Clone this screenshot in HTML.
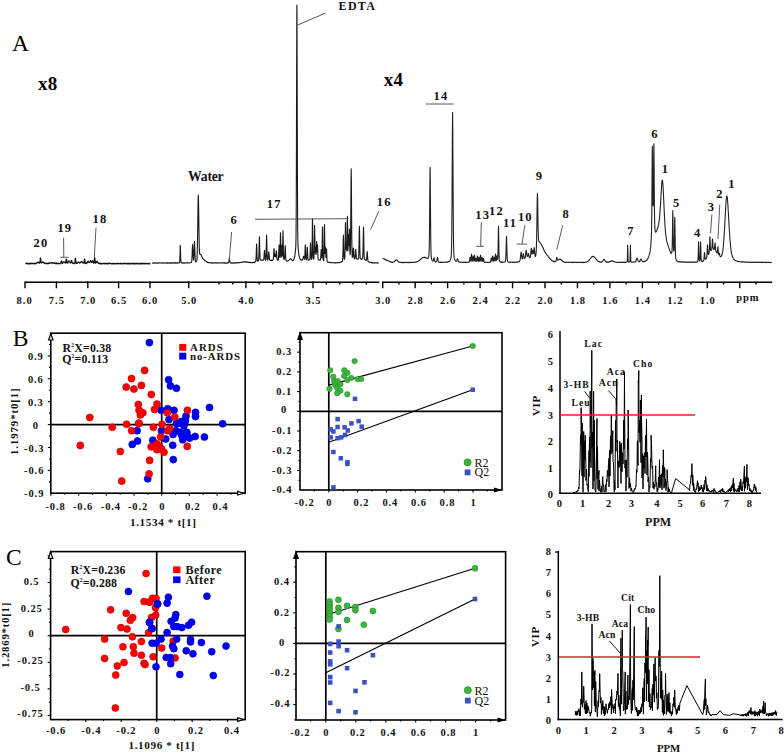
<!DOCTYPE html>
<html><head><meta charset="utf-8"><style>
html,body{margin:0;padding:0;background:#fff;}
svg{display:block;}
text{font-family:"Liberation Serif", serif;}
</style></head><body>
<svg width="784" height="755" viewBox="0 0 784 755" font-family='"Liberation Serif", serif'>
<rect width="784" height="755" fill="#fff"/>
<path d="M25.4,263.48 L25.6,263.38 L25.8,263.68 L26,263.33 L26.2,263.61 L26.4,263.51 L26.6,263.32 L26.8,263.59 L27,263.31 L27.2,263.55 L27.4,263.33 L27.6,263.34 L27.8,263.54 L28,263.78 L28.2,263.36 L28.4,263.42 L28.6,263.66 L28.8,263.85 L29,263.63 L29.2,263.52 L29.4,263.87 L29.6,263.31 L29.8,263.8 L30,263.45 L30.2,263.37 L30.4,263.35 L30.6,263.46 L30.8,263.77 L31,263.39 L31.2,263.62 L31.4,263.66 L31.6,263.5 L31.8,263.6 L32,263.31 L32.2,263.31 L32.4,263.39 L32.6,263.67 L32.8,263.52 L33,263.45 L33.2,263.61 L33.4,263.53 L33.6,263.44 L33.8,263.73 L34,263.67 L34.2,263.39 L34.4,263.58 L34.6,263.55 L34.8,263.75 L35,263.66 L35.2,263.38 L35.4,263.78 L35.6,263.25 L35.8,263.4 L36,263.56 L36.2,263.13 L36.4,263.24 L36.6,262.86 L36.8,263.09 L37,262.96 L37.2,262.65 L37.4,262.63 L37.6,262.11 L37.8,262.2 L38,262.09 L38.2,262.12 L38.4,262.16 L38.6,262.56 L38.8,262.8 L39,262.69 L39.2,262.95 L39.4,262.68 L39.6,263.07 L39.8,262.81 L40,262.21 L40.2,260.45 L40.4,258.31 L40.5,258.04 L40.6,258.54 L40.8,259.97 L41,261.89 L41.2,262.52 L41.4,262.72 L41.6,262.67 L41.8,263.01 L42,262.48 L42.2,262.38 L42.4,262.28 L42.6,262.4 L42.8,261.81 L43,261.99 L43.2,262.1 L43.4,262.43 L43.6,262.58 L43.8,262.8 L44,262.65 L44.2,262.91 L44.4,263.02 L44.6,263.45 L44.8,263.58 L45,263.16 L45.2,263.21 L45.4,263.27 L45.6,263.28 L45.8,263.44 L46,263.51 L46.2,263.32 L46.4,263.16 L46.6,263.4 L46.8,263.37 L47,263.48 L47.2,263.7 L47.4,263.53 L47.6,263.41 L47.8,263.46 L48,263.48 L48.2,263.09 L48.4,263.58 L48.6,263.48 L48.8,263.52 L49,263.45 L49.2,263.18 L49.4,263.16 L49.6,262.96 L49.8,263.25 L50,262.88 L50.2,262.86 L50.4,262.92 L50.6,262.86 L50.8,262.95 L51,262.76 L51.2,262.71 L51.4,262.79 L51.6,262.75 L51.8,262.9 L52,262.69 L52.2,263.2 L52.4,263.05 L52.6,262.79 L52.8,262.86 L53,262.94 L53.2,262.97 L53.4,262.84 L53.6,263.3 L53.8,263.41 L54,263.12 L54.2,263.16 L54.4,262.95 L54.6,262.98 L54.8,263.15 L55,263.13 L55.2,263.5 L55.4,263.12 L55.6,263.06 L55.8,263.63 L56,263.4 L56.2,263.19 L56.4,263.44 L56.6,263.14 L56.8,263.46 L57,263.74 L57.2,263.68 L57.4,263.59 L57.6,263.34 L57.8,263.4 L58,263.29 L58.2,263.66 L58.4,263.51 L58.6,263.66 L58.8,263.39 L59,263.33 L59.2,263.68 L59.4,263.78 L59.6,263.69 L59.8,263.66 L60,263.65 L60.2,263.58 L60.4,263.24 L60.6,263.32 L60.8,263.01 L61,262.32 L61.2,261.54 L61.4,260.96 L61.5,260.82 L61.6,261.19 L61.8,262.04 L62,262.46 L62.2,263.17 L62.4,263.33 L62.6,263.27 L62.8,262.81 L63,262.56 L63.2,262.38 L63.4,262.16 L63.6,261.99 L63.8,262.11 L64,262.23 L64.2,262.23 L64.4,262.13 L64.6,262.4 L64.8,262.67 L65,262.41 L65.2,262.88 L65.4,263.08 L65.6,262.87 L65.8,262.33 L66,261.07 L66.2,259.46 L66.4,259.06 L66.6,259.57 L66.8,261.32 L67,262.55 L67.2,262.76 L67.4,262.92 L67.6,263.21 L67.8,262.92 L68,262.34 L68.2,261.97 L68.4,261.59 L68.6,261.64 L68.8,261.28 L69,260.76 L69.2,261.29 L69.4,261.69 L69.6,261.9 L69.8,262.11 L70,262.56 L70.2,262.55 L70.4,262.59 L70.6,263.09 L70.8,262.58 L71,261.91 L71.2,261.4 L71.4,260.5 L71.5,260.68 L71.6,260.75 L71.8,261.01 L72,261.83 L72.2,262.5 L72.4,262.88 L72.6,263.29 L72.8,263.19 L73,263.33 L73.2,263.17 L73.4,263.65 L73.6,263.32 L73.8,263.37 L74,263.43 L74.2,263.6 L74.4,263.24 L74.6,263.38 L74.8,262.63 L75,261.44 L75.2,259.6 L75.4,258.21 L75.6,259.55 L75.8,261.22 L76,262.32 L76.2,263.28 L76.4,263.06 L76.6,263.28 L76.8,263.42 L77,263.28 L77.2,263.06 L77.4,263.04 L77.6,262.87 L77.8,262.78 L78,262.12 L78.2,262.17 L78.4,261.84 L78.5,261.83 L78.6,262.15 L78.8,262.11 L79,262.35 L79.2,262.69 L79.4,262.97 L79.6,262.81 L79.8,262.96 L80,262.86 L80.2,262.76 L80.4,262.69 L80.6,262.32 L80.8,262.11 L81,261.83 L81.2,261.9 L81.4,261.64 L81.5,261.73 L81.6,261.79 L81.8,261.5 L82,261.89 L82.2,262.37 L82.4,262.57 L82.6,262.39 L82.8,262.59 L83,262.94 L83.2,262.83 L83.4,263 L83.6,262.9 L83.8,263.16 L84,262.8 L84.2,261.8 L84.4,259.72 L84.6,259.08 L84.8,260.03 L85,261.37 L85.2,262.9 L85.4,263.39 L85.6,263.09 L85.8,263.57 L86,263.24 L86.2,263.28 L86.4,263.53 L86.6,263.33 L86.8,262.78 L87,262.72 L87.2,262.48 L87.4,262.04 L87.6,261.63 L87.8,261.44 L88,261.58 L88.2,261.24 L88.4,261.79 L88.6,262 L88.8,262.01 L89,262.38 L89.2,262.61 L89.4,262.46 L89.6,261.97 L89.8,262.2 L90,261.7 L90.2,261.45 L90.4,260.71 L90.5,260.77 L90.6,260.67 L90.8,261.32 L91,261.36 L91.2,261.62 L91.4,262.04 L91.6,262.4 L91.8,262.2 L92,261.51 L92.2,261 L92.4,261.14 L92.5,260.89 L92.6,261.04 L92.8,261.07 L93,261.59 L93.2,262.48 L93.4,262.69 L93.6,262.69 L93.8,263.24 L94,262.82 L94.2,262.06 L94.4,259.89 L94.6,258.46 L94.7,257.65 L94.8,258.46 L95,260.11 L95.2,261.76 L95.4,262.72 L95.6,263.17 L95.8,262.73 L96,262.47 L96.2,262.46 L96.4,261.98 L96.6,261.6 L96.8,261.4 L97,261.24 L97.2,261.44 L97.4,261.76 L97.6,262.09 L97.8,262.7 L98,262.71 L98.2,263.06 L98.4,263.03 L98.6,263.24 L98.8,263.12 L99,263.3 L99.2,263.18 L99.4,263.63 L99.6,263.54 L99.8,263.33 L100,263.51 L100.2,263.79 L100.4,263.3 L100.6,263.73 L100.8,263.5 L101,263.55 L101.2,263.75 L101.4,263.49 L101.6,263.56 L101.8,263.67 L102,263.85 L102.2,263.47 L102.4,263.77 L102.6,263.69 L102.8,263.65 L103,263.51 L103.2,263.48 L103.4,263.31 L103.6,263.35 L103.8,263.32 L104,263.72 L104.2,263.43 L104.4,263.38 L104.6,263.33 L104.8,263.78 L105,263.8 L105.2,263.68 L105.4,263.45 L105.6,263.43 L105.8,263.46 L106,263.56 L106.2,263.38 L106.4,263.55 L106.6,263.44 L106.8,263.86 L107,263.87 L107.2,263.61 L107.4,263.43 L107.6,263.87 L107.8,263.47 L108,263.5 L108.2,263.29 L108.4,263.52 L108.6,263.57 L108.8,263.59 L109,263.41 L109.2,263.59 L109.4,263.29 L109.6,263.45 L109.8,263.34 L110,263.53 L110.2,263.31 L110.4,263.3 L110.6,263.47 L110.8,263.43 L111,263.64 L111.2,263.61 L111.4,263.74 L111.6,263.69 L111.8,263.72 L112,263.82 L112.2,263.53 L112.4,263.49 L112.6,263.88 L112.8,263.38 L113,263.73 L113.2,263.68 L113.4,263.32 L113.6,263.79 L113.8,263.83 L114,263.67 L114.2,263.73 L114.4,263.78 L114.6,263.38 L114.8,263.61 L115,263.6 L115.2,263.79 L115.4,263.78 L115.6,263.79 L115.8,263.64 L116,263.83 L116.2,263.7 L116.4,263.71 L116.6,263.43 L116.8,263.31 L117,263.37 L117.2,263.51 L117.4,263.36 L117.6,263.8 L117.8,263.63 L118,263.67 L118.2,263.67 L118.4,263.7 L118.6,263.59 L118.8,263.3 L119,263.77 L119.2,263.74 L119.4,263.6 L119.6,263.62 L119.8,263.69 L120,263.33 L120.2,263.74 L120.4,263.45 L120.6,263.34 L120.8,263.45 L121,263.73 L121.2,263.42 L121.4,263.74 L121.6,263.88 L121.8,263.59 L122,263.53 L122.2,263.58 L122.4,263.71 L122.6,263.76 L122.8,263.67 L123,263.68 L123.2,263.34 L123.4,263.38 L123.6,263.45 L123.8,263.74 L124,263.48 L124.2,263.64 L124.4,263.3 L124.6,263.33 L124.8,263.46 L125,263.7 L125.2,263.71 L125.4,263.7 L125.6,263.47 L125.8,263.61 L126,263.58 L126.2,263.58 L126.4,263.37 L126.6,263.83 L126.8,263.42 L127,263.88 L127.2,263.86 L127.4,263.31 L127.6,263.57 L127.8,263.79 L128,263.88 L128.2,263.57 L128.4,263.46 L128.6,263.42 L128.8,263.86 L129,263.42 L129.2,263.65 L129.4,263.38 L129.6,263.61 L129.8,263.87 L130,263.38 L130.2,263.79 L130.4,263.6 L130.6,263.83 L130.8,263.72 L131,263.44 L131.2,263.84 L131.4,263.59 L131.6,263.31 L131.8,263.3 L132,263.59 L132.2,263.57 L132.4,263.48 L132.6,263.38 L132.8,263.5 L133,263.49 L133.2,263.8 L133.4,263.3 L133.6,263.75 L133.8,263.8 L134,263.37 L134.2,263.85 L134.4,263.73 L134.6,263.84 L134.8,263.47 L135,263.52 L135.2,263.53 L135.4,263.9 L135.6,263.65 L135.8,263.51 L136,263.55 L136.2,263.46 L136.4,263.33 L136.6,263.36 L136.8,263.8 L137,263.47 L137.2,263.86 L137.4,263.45 L137.6,263.46 L137.8,263.6 L138,263.41 L138.2,263.52 L138.4,263.87 L138.6,263.83 L138.8,263.79 L139,263.68 L139.2,263.85 L139.4,263.86 L139.6,263.63 L139.8,263.73 L140,263.33 L140.2,263.74 L140.4,263.57 L140.6,263.75 L140.8,263.68 L141,263.47 L141.2,263.33 L141.4,263.85 L141.6,263.37 L141.8,263.58 L142,263.5 L142.2,263.48 L142.4,263.74 L142.6,263.88 L142.8,263.45 L143,263.69 L143.2,263.48 L143.4,263.63 L143.6,263.53 L143.8,263.4 L144,263.4 L144.2,263.42 L144.4,263.84 L144.6,263.6 L144.8,263.43 L145,263.84 L145.2,263.9 L145.4,263.57 L145.6,263.38 L145.8,263.41 L146,263.35 L146.2,263.5 L146.4,263.35 L146.6,263.44 L146.8,263.45 L147,263.64 L147.2,263.83 L147.4,263.75 L147.6,263.55 L147.8,263.55 L148,263.61 L148.2,263.52 L148.4,263.5 L148.6,263.34 L148.8,263.46 L149,263.88 L149.2,263.37 L149.4,263.6 L149.6,263.68 L149.8,263.82 L150,263.43 L150.2,263.46 L150.4,263.45" fill="none" stroke="#111" stroke-width="1.3" stroke-linejoin="round" />
<path d="M152.2,262.95 L152.4,262.97 L152.6,263.17 L152.8,263.13 L153,263.14 L153.2,262.8 L153.4,262.8 L153.6,263.07 L153.8,263.15 L154,262.98 L154.2,263.02 L154.4,262.79 L154.6,262.95 L154.8,263.16 L155,263.12 L155.2,263.13 L155.4,263.18 L155.6,262.89 L155.8,262.83 L156,262.85 L156.2,263 L156.4,263.06 L156.6,263.16 L156.8,263.08 L157,263.05 L157.2,263.09 L157.4,262.97 L157.6,263.01 L157.8,262.8 L158,263.1 L158.2,262.88 L158.4,263.16 L158.6,263.05 L158.8,262.91 L159,262.84 L159.2,262.89 L159.4,263.04 L159.6,263.07 L159.8,262.83 L160,262.81 L160.2,263 L160.4,263.02 L160.6,262.94 L160.8,262.88 L161,263.03 L161.2,262.79 L161.4,262.91 L161.6,262.97 L161.8,263.17 L162,263.04 L162.2,263.14 L162.4,262.98 L162.6,262.88 L162.8,262.88 L163,263.17 L163.2,263.07 L163.4,262.91 L163.6,262.79 L163.8,262.98 L164,263.05 L164.2,262.95 L164.4,262.89 L164.6,263.05 L164.8,263.15 L165,262.87 L165.2,262.8 L165.4,262.92 L165.6,262.95 L165.8,263.06 L166,262.86 L166.2,263.1 L166.4,263.08 L166.6,262.98 L166.8,262.86 L167,263.17 L167.2,262.91 L167.4,263.11 L167.6,262.87 L167.8,262.87 L168,263.08 L168.2,262.9 L168.4,263.16 L168.6,262.98 L168.8,262.85 L169,262.87 L169.2,262.95 L169.4,263.04 L169.6,263.16 L169.8,262.84 L170,262.94 L170.2,262.86 L170.4,263.17 L170.6,262.83 L170.8,262.8 L171,262.8 L171.2,262.93 L171.4,263.14 L171.6,263.13 L171.8,263.07 L172,263.17 L172.2,263.15 L172.4,262.91 L172.6,262.85 L172.8,263.15 L173,263.07 L173.2,262.78 L173.4,263.04 L173.6,262.92 L173.8,262.92 L174,262.9 L174.2,262.84 L174.4,262.77 L174.6,262.88 L174.8,262.91 L175,263.15 L175.2,262.81 L175.4,263.15 L175.6,262.85 L175.8,262.9 L176,263.09 L176.2,263.09 L176.4,262.93 L176.6,262.77 L176.8,262.94 L177,262.9 L177.2,263.11 L177.4,262.82 L177.6,262.88 L177.8,263.09 L178,262.74 L178.2,262.88 L178.4,263.03 L178.6,262.99 L178.8,262.68 L179,262.65 L179.2,262.61 L179.4,262.84 L179.6,262.12 L179.8,260.2 L180,254.37 L180.2,246.76 L180.3,245.37 L180.4,247.01 L180.6,254.26 L180.8,260 L181,262.3 L181.2,262.59 L181.4,262.68 L181.6,262.62 L181.8,262.96 L182,263.04 L182.2,262.94 L182.4,263.08 L182.6,262.72 L182.8,262.81 L183,262.91 L183.2,263.1 L183.4,263.1 L183.6,262.88 L183.8,262.82 L184,262.9 L184.2,262.92 L184.4,263.1 L184.6,262.8 L184.8,263.04 L185,263.02 L185.2,263.05 L185.4,263.03 L185.6,262.96 L185.8,262.85 L186,262.84 L186.2,262.86 L186.4,263.02 L186.6,262.74 L186.8,262.78 L187,263 L187.2,262.8 L187.4,262.72 L187.6,262.7 L187.8,262.91 L188,262.81 L188.2,263.07 L188.4,263.02 L188.6,263.06 L188.8,262.76 L189,262.68 L189.2,262.68 L189.4,262.83 L189.6,262.9 L189.8,262.78 L190,262.68 L190.2,262.73 L190.4,262.79 L190.6,262.78 L190.8,262.77 L191,262.76 L191.2,262.6 L191.4,262.2 L191.6,261.96 L191.8,260.32 L192,257.33 L192.2,252.31 L192.4,247.18 L192.6,244.52 L192.8,246.9 L193,252.06 L193.2,256.81 L193.4,259.82 L193.6,260.07 L193.8,257.95 L194,253.39 L194.2,247.38 L194.4,242.24 L194.5,241.38 L194.6,242.36 L194.8,247.23 L195,253.64 L195.2,257.99 L195.4,260.59 L195.6,261.67 L195.8,261.94 L196,261.98 L196.2,261.53 L196.4,261.45 L196.6,261 L196.8,260.19 L197,258.64 L197.2,254.56 L197.4,247.46 L197.6,235.87 L197.8,221.36 L198,206.33 L198.2,196.34 L198.3,195.01 L198.4,196.2 L198.6,204.94 L198.8,219.17 L199,233.05 L199.2,243.44 L199.4,249.94 L199.6,253.02 L199.8,254.24 L200,254.51 L200.2,254.58 L200.4,254.51 L200.5,254.31 L200.6,254.24 L200.8,254.48 L201,254.85 L201.2,254.99 L201.4,255.45 L201.6,255.87 L201.8,256.59 L202,256.97 L202.2,257.23 L202.4,257.67 L202.6,258.16 L202.8,258.56 L203,258.89 L203.2,258.92 L203.4,259.17 L203.6,259.58 L203.8,259.64 L204,259.76 L204.2,259.92 L204.4,260.34 L204.6,260.23 L204.8,260.49 L205,260.55 L205.2,260.73 L205.4,261.06 L205.6,261.26 L205.8,261.16 L206,261.23 L206.2,261.58 L206.4,261.51 L206.6,261.55 L206.8,262.03 L207,261.95 L207.2,262.21 L207.4,262.14 L207.6,262.42 L207.8,262.33 L208,262.28 L208.2,262.28 L208.4,262.56 L208.6,262.64 L208.8,262.79 L209,262.51 L209.2,262.75 L209.4,262.68 L209.6,262.76 L209.8,262.64 L210,262.71 L210.2,262.83 L210.4,263 L210.6,262.69 L210.8,262.85 L211,262.99 L211.2,263.06 L211.4,262.76 L211.6,262.73 L211.8,263.07 L212,263.08 L212.2,262.89 L212.4,262.72 L212.6,263.07 L212.8,262.86 L213,263.07 L213.2,262.96 L213.4,263.04 L213.6,262.78 L213.8,263.03 L214,262.81 L214.2,262.88 L214.4,263.06 L214.6,263.06 L214.8,262.8 L215,262.81 L215.2,262.89 L215.4,262.94 L215.6,262.88 L215.8,262.78 L216,262.83 L216.2,263.02 L216.4,263.09 L216.6,262.75 L216.8,262.96 L217,263.04 L217.2,262.75 L217.4,263.07 L217.6,262.79 L217.8,262.98 L218,262.96 L218.2,262.99 L218.4,262.86 L218.6,262.91 L218.8,262.98 L219,262.91 L219.2,263.01 L219.4,262.92 L219.6,262.92 L219.8,262.75 L220,262.99 L220.2,262.94 L220.4,262.84 L220.6,263.05 L220.8,263.06 L221,262.93 L221.2,262.82 L221.4,262.94 L221.6,262.79 L221.8,262.8 L222,262.92 L222.2,262.78 L222.4,262.93 L222.6,262.95 L222.8,262.76 L223,263 L223.2,262.78 L223.4,263.04 L223.6,263.06 L223.8,262.95 L224,262.77 L224.2,262.95 L224.4,262.9 L224.6,263.13 L224.8,262.8 L225,263.09 L225.2,263.14 L225.4,263.04 L225.6,263.07 L225.8,262.82 L226,263.14 L226.2,262.94 L226.4,263.12 L226.6,263.1 L226.8,262.8 L227,263.05 L227.2,263.1 L227.4,262.75 L227.6,262.86 L227.8,263.01 L228,262.76 L228.2,263.02 L228.4,262.66 L228.6,262.52 L228.8,261.42 L229,260.26 L229.2,259.3 L229.3,258.83 L229.4,259.03 L229.6,260.26 L229.8,261.49 L230,262.21 L230.2,262.62 L230.4,262.72 L230.6,263.07 L230.8,262.98 L231,263.07 L231.2,262.79 L231.4,263.04 L231.6,262.77 L231.8,262.94 L232,262.98 L232.2,262.87 L232.4,263.08 L232.6,262.95 L232.8,262.96 L233,263.08 L233.2,262.77 L233.4,263.13 L233.6,262.98 L233.8,262.89 L234,263.05 L234.2,262.83 L234.4,263.12 L234.6,262.95 L234.8,262.86 L235,263.02 L235.2,262.89 L235.4,262.78 L235.6,263.01 L235.8,262.72 L236,263.03 L236.2,262.8 L236.4,262.94 L236.6,263.07 L236.8,262.91 L237,262.93 L237.2,262.78 L237.4,262.65 L237.6,262.65 L237.8,262.68 L238,262.85 L238.2,262.77 L238.4,262.78 L238.6,262.92 L238.8,262.59 L239,262.61 L239.2,262.76 L239.4,262.48 L239.6,262.45 L239.8,262.57 L240,262.44 L240.2,262.51 L240.4,262.43 L240.6,262.54 L240.8,262.51 L241,262.32 L241.2,262.46 L241.4,262.36 L241.6,262.19 L241.8,262.47 L242,262.16 L242.2,262.09 L242.4,262.03 L242.6,262.22 L242.8,262.28 L243,262.21 L243.2,262.03 L243.4,261.95 L243.6,261.82 L243.8,262.05 L244,262 L244.2,261.9 L244.4,262 L244.6,261.91 L244.8,262.1 L245,262.02 L245.2,261.82 L245.4,262.09 L245.6,261.75 L245.8,261.96 L246,261.92 L246.2,261.87 L246.4,261.82 L246.6,262.13 L246.8,261.85 L247,262.09 L247.2,262.28 L247.4,261.99 L247.6,262.04 L247.8,262.23 L248,262.22 L248.2,262.31 L248.4,262.41 L248.6,262.18 L248.8,262.27 L249,262.29 L249.2,262.22 L249.4,262.58 L249.6,262.56 L249.8,262.56 L250,262.3 L250.2,262.65 L250.4,262.63 L250.6,262.53 L250.8,262.65 L251,262.55 L251.2,262.46 L251.4,262.42 L251.6,262.47 L251.8,262.39 L252,262.51 L252.2,262.66 L252.4,262.63 L252.6,262.68 L252.8,262.61 L253,262.41 L253.2,262.5 L253.4,262.43 L253.6,262.54 L253.8,262.4 L254,262.26 L254.2,262.37 L254.4,262.45 L254.6,262.1 L254.8,262.3 L255,261.89 L255.2,261.9 L255.4,261.78 L255.6,261.8 L255.8,261.34 L256,259.4 L256.2,254.6 L256.4,248.03 L256.6,244.06 L256.8,247.63 L257,254.54 L257.2,258.92 L257.4,260.66 L257.6,261.04 L257.8,261.19 L258,260.92 L258.2,260.96 L258.4,260.68 L258.6,260.03 L258.8,257.36 L259,251.18 L259.2,241.89 L259.4,236.7 L259.6,241.63 L259.8,250.91 L260,256.87 L260.2,259.61 L260.4,259.91 L260.6,260 L260.8,260.06 L261,260.4 L261.2,260.17 L261.4,260.09 L261.6,260.04 L261.8,260.04 L262,260.29 L262.2,260.27 L262.4,260.29 L262.6,260.3 L262.8,260.03 L263,260.24 L263.2,260.13 L263.4,260.24 L263.6,259.98 L263.8,259.12 L264,256.67 L264.2,253.67 L264.4,250.79 L264.5,250.34 L264.6,250.48 L264.8,253.45 L265,256.76 L265.2,258.85 L265.4,260.04 L265.6,260.16 L265.8,259.5 L266,257.03 L266.2,250.37 L266.4,240.52 L266.6,235.14 L266.8,240.48 L267,250.49 L267.2,256.89 L267.4,259.51 L267.6,260.17 L267.8,259.94 L268,259.42 L268.2,257.97 L268.4,255.75 L268.6,253.06 L268.8,251.86 L269,253.28 L269.2,255.64 L269.4,258.17 L269.6,259.55 L269.8,259.98 L270,260.35 L270.2,260.41 L270.4,260.55 L270.6,260.37 L270.8,260.5 L271,260.42 L271.2,260.27 L271.4,260.51 L271.6,260.19 L271.8,260.46 L272,260.19 L272.2,260.1 L272.4,260.16 L272.6,260.36 L272.8,260.39 L273,259.83 L273.2,259.43 L273.4,257.77 L273.6,254.65 L273.8,250.45 L274,248.61 L274.2,250.43 L274.4,254.27 L274.6,256.45 L274.8,256.74 L275,255.07 L275.2,254.19 L275.4,255.29 L275.6,256.76 L275.8,256.9 L276,255.3 L276.2,252.14 L276.4,250.91 L276.6,252.49 L276.8,255.77 L277,258.35 L277.2,259.59 L277.4,260.06 L277.6,260.14 L277.8,260.31 L278,259.9 L278.2,259.98 L278.4,258.77 L278.6,256.19 L278.8,251.03 L279,246.03 L279.1,244.95 L279.2,245.72 L279.4,250.96 L279.6,255.6 L279.8,257.53 L280,255.08 L280.2,246.3 L280.4,234.99 L280.5,232.84 L280.6,234.78 L280.8,246.01 L281,254.76 L281.2,257.42 L281.4,254.95 L281.6,249.13 L281.8,245.11 L282,248.95 L282.2,254.75 L282.4,256.09 L282.6,250.43 L282.8,238.44 L283,230.85 L283.2,238.51 L283.4,250.87 L283.6,257.29 L283.8,259.18 L284,259.6 L284.2,259.4 L284.4,259.13 L284.6,257.79 L284.8,254.13 L285,248.73 L285.2,245.62 L285.4,248.83 L285.6,254.44 L285.8,258.63 L286,260.1 L286.2,260.33 L286.4,260.85 L286.6,260.61 L286.8,260.81 L287,261.12 L287.2,261.09 L287.4,261.09 L287.6,260.97 L287.8,260.85 L288,260.98 L288.2,260.68 L288.4,260.6 L288.6,260.51 L288.8,260.18 L289,260.11 L289.2,260.03 L289.4,259.74 L289.6,259.41 L289.8,259.24 L290,258.98 L290.2,258.71 L290.4,258.82 L290.5,258.73 L290.6,258.87 L290.8,259.01 L291,258.95 L291.2,259.19 L291.4,259.48 L291.6,259.58 L291.8,259.74 L292,260.15 L292.2,260.41 L292.4,260.52 L292.6,260.6 L292.8,260.71 L293,260.63 L293.2,260.53 L293.4,260.29 L293.6,259.98 L293.8,259.75 L294,259.07 L294.2,258.6 L294.4,257.99 L294.6,257.05 L294.8,255.93 L295,254.5 L295.2,253.09 L295.4,251.38 L295.6,249.34 L295.8,245.95 L296,238.05 L296.2,215.66 L296.4,164.21 L296.6,85.04 L296.8,16.1 L296.9,5.03 L297,15.94 L297.2,85.03 L297.4,163.93 L297.6,215.19 L297.8,237.45 L298,245.63 L298.2,248.91 L298.4,250.77 L298.6,252.25 L298.8,253.85 L299,255.05 L299.2,256.14 L299.4,256.92 L299.6,257.68 L299.8,258.32 L300,258.65 L300.2,258.96 L300.4,259.45 L300.6,259.36 L300.8,259.7 L301,259.71 L301.2,259.95 L301.4,259.76 L301.6,260.16 L301.8,259.94 L302,259.85 L302.2,259.95 L302.4,259.96 L302.6,259.65 L302.8,259.42 L303,258.69 L303.2,257.76 L303.4,256.62 L303.6,256.15 L303.8,256.57 L304,257.77 L304.2,258.84 L304.4,259.23 L304.6,258.68 L304.8,256.43 L305,251.05 L305.2,245.66 L305.3,244.74 L305.4,245.9 L305.6,251.25 L305.8,256.46 L306,259.05 L306.2,259.88 L306.4,259.77 L306.6,259.4 L306.8,256.85 L307,252.38 L307.2,247.81 L307.3,247.02 L307.4,247.67 L307.6,252.25 L307.8,256.95 L308,259.09 L308.2,260.1 L308.4,260.07 L308.6,260.29 L308.8,260.06 L309,260.08 L309.2,259.99 L309.4,259.99 L309.6,259.76 L309.8,259.22 L310,257.42 L310.2,251.48 L310.4,244.25 L310.5,242.92 L310.6,244.29 L310.8,251.38 L311,257.1 L311.2,259.06 L311.4,259.24 L311.6,259.28 L311.8,258.19 L312,252.92 L312.2,239.42 L312.4,222.12 L312.5,218.86 L312.6,221.79 L312.8,239.32 L313,252.98 L313.2,257.62 L313.4,258.59 L313.6,259.07 L313.8,258.64 L314,256.54 L314.2,249.06 L314.4,234.57 L314.6,225.34 L314.8,234.65 L315,248.28 L315.2,253 L315.4,250.14 L315.6,247.18 L315.8,250.11 L316,254.55 L316.2,253.17 L316.4,246.27 L316.6,241.44 L316.8,246.12 L317,252.01 L317.2,250.98 L317.4,245.5 L317.5,244.7 L317.6,245.9 L317.8,252.43 L318,257.43 L318.2,259.49 L318.4,259.82 L318.6,259.85 L318.8,259.93 L319,259.96 L319.2,260.17 L319.4,260.04 L319.6,260.25 L319.8,260.15 L320,260.3 L320.2,260.27 L320.4,260.02 L320.6,259.06 L320.8,255.88 L321,252.02 L321.2,249.56 L321.4,251.85 L321.6,255.93 L321.8,258.01 L322,254.88 L322.2,243.8 L322.4,229.78 L322.5,226.81 L322.6,229.72 L322.8,244.1 L323,255.31 L323.2,259.64 L323.4,260.5 L323.6,260.62 L323.8,259.55 L324,255.43 L324.2,242.86 L324.4,227.27 L324.5,224.55 L324.6,227.06 L324.8,242.64 L325,253.39 L325.2,253.07 L325.4,248.35 L325.5,247.2 L325.6,248.39 L325.8,254.13 L326,257.48 L326.2,254.66 L326.4,249.7 L326.5,248.77 L326.6,249.9 L326.8,255.59 L327,259.82 L327.2,261.67 L327.4,261.89 L327.6,262.06 L327.8,262.04 L328,262.2 L328.2,262.44 L328.4,262.35 L328.6,262.45 L328.8,262.3 L329,262.32 L329.2,262.34 L329.4,262.48 L329.6,262.53 L329.8,262.61 L330,262.33 L330.2,262.62 L330.4,262.71 L330.6,262.59 L330.8,262.41 L331,262.52 L331.2,262.42 L331.4,262.5 L331.6,262.81 L331.8,262.69 L332,262.72 L332.2,262.78 L332.4,262.84 L332.6,262.73 L332.8,262.74 L333,262.75 L333.2,262.79 L333.4,262.75 L333.6,262.79 L333.8,262.61 L334,262.79 L334.2,262.71 L334.4,262.84 L334.6,262.58 L334.8,262.61 L335,262.55 L335.2,262.85 L335.4,262.91 L335.6,262.8 L335.8,262.69 L336,262.87 L336.2,262.85 L336.4,262.76 L336.6,262.63 L336.8,262.65 L337,262.69 L337.2,262.64 L337.4,262.68 L337.6,262.75 L337.8,262.86 L338,262.5 L338.2,262.69 L338.4,262.46 L338.6,262.48 L338.8,262.73 L339,262.62 L339.2,262.73 L339.4,262.51 L339.6,262.31 L339.8,262.42 L340,262.46 L340.2,262.55 L340.4,262.52 L340.6,262.26 L340.8,262.17 L341,261.97 L341.2,262.11 L341.4,261.84 L341.6,261.72 L341.8,261.54 L342,261.39 L342.2,261.48 L342.4,260.96 L342.6,260.47 L342.8,257.36 L343,250.84 L343.2,240.54 L343.4,234.95 L343.6,240.45 L343.8,249.94 L344,256.64 L344.2,258.83 L344.4,259.21 L344.6,259.28 L344.8,258.2 L345,253.71 L345.2,241.21 L345.4,225.34 L345.5,222.57 L345.6,225.27 L345.8,239.68 L346,249.31 L346.2,248.09 L346.4,245.76 L346.6,248.5 L346.8,250.87 L347,244.36 L347.2,227.54 L347.4,216.37 L347.6,227.14 L347.8,244.25 L348,250.74 L348.2,245.43 L348.4,236.77 L348.5,234.87 L348.6,236.24 L348.8,244.06 L349,245.44 L349.2,236.08 L349.4,229.1 L349.6,236.54 L349.8,248.64 L350,254.24 L350.2,254.72 L350.4,250.52 L350.6,237.88 L350.8,213.25 L351,183.4 L351.2,168.7 L351.4,183.59 L351.6,213.71 L351.8,238.43 L352,251.14 L352.2,256.14 L352.4,257.29 L352.6,257.3 L352.8,255.84 L353,253.12 L353.2,249.75 L353.4,247.99 L353.6,249.81 L353.8,253.44 L354,256.56 L354.2,258.34 L354.4,258.7 L354.6,258.94 L354.8,258.71 L355,257.99 L355.2,255.91 L355.4,252.47 L355.6,249.54 L355.7,249.2 L355.8,249.72 L356,252.62 L356.2,255.97 L356.4,258.07 L356.6,258.61 L356.8,259.19 L357,259.25 L357.2,259.29 L357.4,259.17 L357.6,259.03 L357.8,259.22 L358,259.14 L358.2,258.99 L358.4,258.84 L358.6,257.71 L358.8,254.23 L359,245.84 L359.2,233.33 L359.4,226.18 L359.6,233.3 L359.8,245.98 L360,254.27 L360.2,257.78 L360.4,258.71 L360.6,258.86 L360.8,258.85 L361,258.92 L361.2,259.15 L361.4,259.18 L361.6,259.05 L361.8,258.89 L362,259.15 L362.2,259.09 L362.4,258.75 L362.6,258.48 L362.8,256.86 L363,251.27 L363.2,240.07 L363.4,228.9 L363.5,227.08 L363.6,228.83 L363.8,240.09 L364,251.24 L364.2,257.12 L364.4,258.84 L364.6,259.43 L364.8,259.59 L365,259.8 L365.2,259.78 L365.4,259.86 L365.6,260.35 L365.8,260.2 L366,260.16 L366.2,260.35 L366.4,260.03 L366.6,258.55 L366.8,256.22 L367,253.05 L367.2,251.66 L367.4,253.13 L367.6,256.42 L367.8,259.52 L368,260.91 L368.2,261.34 L368.4,261.6 L368.6,261.61 L368.8,261.93 L369,261.88 L369.2,262.17 L369.4,262.18 L369.6,262.27 L369.8,262.4 L370,262.18 L370.2,262.15 L370.4,262.26 L370.6,262.3 L370.8,262.31 L371,262.34 L371.2,262.58 L371.4,262.74 L371.6,262.6 L371.8,262.83 L372,262.84 L372.2,262.52 L372.4,262.76 L372.6,262.69 L372.8,262.6 L373,262.95 L373.2,262.68 L373.4,262.82 L373.6,262.86 L373.8,263 L374,262.89 L374.2,262.79 L374.4,262.82 L374.6,262.71 L374.8,263.04 L375,263.05 L375.2,262.75 L375.4,262.68 L375.6,262.77 L375.8,262.82 L376,263.04 L376.2,263.04 L376.4,263.02 L376.6,262.71 L376.8,263.01 L377,262.98 L377.2,262.95 L377.4,263.09 L377.6,262.72 L377.8,262.76 L378,263.01 L378.2,263.08 L378.4,262.98 L378.6,262.83 L378.8,262.95" fill="none" stroke="#1a1a1a" stroke-width="1.1" stroke-linejoin="round" />
<path d="M382.6,258.49 L382.8,258.32 L383,258.49 L383.2,258.55 L383.4,258.59 L383.6,258.82 L383.8,258.78 L384,258.89 L384.2,258.94 L384.4,259.24 L384.6,259.06 L384.8,259.43 L385,259.31 L385.2,259.33 L385.4,259.78 L385.6,259.58 L385.8,259.96 L386,260.02 L386.2,260.11 L386.4,259.9 L386.6,260.11 L386.8,260.06 L387,260.48 L387.2,260.53 L387.4,260.53 L387.6,260.55 L387.8,260.59 L388,260.87 L388.2,260.82 L388.4,260.97 L388.6,260.86 L388.8,260.98 L389,261 L389.2,261.35 L389.4,261.37 L389.6,261.3 L389.8,261.67 L390,261.52 L390.2,261.66 L390.4,261.65 L390.6,261.78 L390.8,262.1 L391,261.98 L391.2,262 L391.4,262.21 L391.6,262.23 L391.8,262.54 L392,262.3 L392.2,262.64 L392.4,262.25 L392.6,262.56 L392.8,262.43 L393,262.2 L393.2,262.25 L393.4,262.09 L393.6,261.98 L393.8,261.84 L394,261.76 L394.2,261.85 L394.4,261.67 L394.6,261.44 L394.8,260.9 L395,260.76 L395.2,260.79 L395.4,260.26 L395.6,260.36 L395.8,260.05 L396,260.23 L396.2,259.79 L396.4,260.11 L396.6,259.97 L396.8,259.99 L397,260.07 L397.2,260.57 L397.4,260.64 L397.6,260.72 L397.8,261.03 L398,261.43 L398.2,261.35 L398.4,261.68 L398.6,261.67 L398.8,261.83 L399,262.18 L399.2,262.26 L399.4,262.13 L399.6,262.15 L399.8,262.2 L400,262.44 L400.2,262.42 L400.4,262.35 L400.6,262.34 L400.8,262.51 L401,262.55 L401.2,262.6 L401.4,262.51 L401.6,262.36 L401.8,262.3 L402,262.57 L402.2,262.44 L402.4,262.56 L402.6,262.3 L402.8,262.6 L403,262.41 L403.2,262.61 L403.4,262.62 L403.6,262.47 L403.8,262.28 L404,262.64 L404.2,262.47 L404.4,262.62 L404.6,262.38 L404.8,262.35 L405,262.61 L405.2,262.42 L405.4,262.34 L405.6,262.42 L405.8,262.51 L406,262.27 L406.2,262.48 L406.4,262.45 L406.6,262.48 L406.8,262.32 L407,262.56 L407.2,262.6 L407.4,262.62 L407.6,262.4 L407.8,262.55 L408,262.42 L408.2,262.57 L408.4,262.29 L408.6,262.62 L408.8,262.65 L409,262.46 L409.2,262.47 L409.4,262.48 L409.6,262.48 L409.8,262.27 L410,262.65 L410.2,262.35 L410.4,262.33 L410.6,262.3 L410.8,262.36 L411,262.58 L411.2,262.27 L411.4,262.29 L411.6,262.53 L411.8,262.33 L412,262.25 L412.2,262.48 L412.4,262.47 L412.6,262.44 L412.8,262.51 L413,262.26 L413.2,262.56 L413.4,262.49 L413.6,262.21 L413.8,262.23 L414,262.36 L414.2,262.35 L414.4,262.24 L414.6,262.15 L414.8,262.24 L415,262.11 L415.2,262.26 L415.4,262.33 L415.6,262.01 L415.8,262.13 L416,262.16 L416.2,261.87 L416.4,262.08 L416.6,262.06 L416.8,261.77 L417,261.7 L417.2,261.79 L417.4,261.57 L417.6,261.42 L417.8,261.53 L418,261.36 L418.2,261.06 L418.4,260.9 L418.6,260.8 L418.8,260.7 L419,260.77 L419.2,260.55 L419.4,260.44 L419.6,260.23 L419.8,260.08 L420,259.59 L420.2,259.61 L420.4,259.61 L420.6,259.42 L420.8,258.97 L421,258.87 L421.2,258.79 L421.4,258.51 L421.6,258.42 L421.8,258.08 L422,258.08 L422.2,257.97 L422.4,257.65 L422.6,257.58 L422.8,257.81 L423,257.64 L423.2,257.63 L423.4,257.44 L423.6,257.47 L423.8,257.46 L424,257.44 L424.2,257.1 L424.4,257.35 L424.6,257.22 L424.8,257.43 L425,257.31 L425.2,257.48 L425.4,257.71 L425.6,257.67 L425.8,257.61 L426,257.82 L426.2,257.88 L426.4,258.19 L426.6,258.02 L426.8,258.12 L427,258.35 L427.2,258.21 L427.4,258.45 L427.6,258.63 L427.8,258.44 L428,258.28 L428.2,258.22 L428.4,258 L428.6,257.42 L428.8,256.6 L429,254.77 L429.2,250.26 L429.4,239.8 L429.6,220.24 L429.8,193.35 L430,170.69 L430.1,167.32 L430.2,171.09 L430.4,193.82 L430.6,220.88 L430.8,240.65 L431,251.19 L431.2,256.17 L431.4,258.11 L431.6,259.16 L431.8,259.82 L432,260.21 L432.2,260.48 L432.4,260.7 L432.6,260.86 L432.8,261.07 L433,260.97 L433.2,260.78 L433.4,259.95 L433.6,259.18 L433.8,258.44 L434,257.78 L434.2,258.43 L434.4,259.45 L434.6,260.39 L434.8,261.4 L435,261.54 L435.2,261.93 L435.4,261.78 L435.6,261.78 L435.8,262.12 L436,261.94 L436.2,261.74 L436.4,261.74 L436.6,261.44 L436.8,260.9 L437,259.59 L437.2,258.33 L437.4,257.61 L437.5,257.37 L437.6,257.3 L437.8,258.4 L438,259.73 L438.2,260.94 L438.4,261.59 L438.6,262.03 L438.8,262.18 L439,262.14 L439.2,262.27 L439.4,262.3 L439.6,262.33 L439.8,262.23 L440,262.37 L440.2,262.35 L440.4,262.44 L440.6,262.13 L440.8,262.43 L441,262.09 L441.2,262.4 L441.4,262.32 L441.6,262.29 L441.8,262.48 L442,262.32 L442.2,262.26 L442.4,262.4 L442.6,262.44 L442.8,262.33 L443,262.23 L443.2,262.26 L443.4,262.25 L443.6,262.36 L443.8,262.18 L444,262.21 L444.2,262.27 L444.4,262.19 L444.6,262.16 L444.8,262.34 L445,262.35 L445.2,262.2 L445.4,262.17 L445.6,262.05 L445.8,262.08 L446,262 L446.2,262.16 L446.4,262.14 L446.6,261.92 L446.8,262.23 L447,261.96 L447.2,262.14 L447.4,262.1 L447.6,262.11 L447.8,261.77 L448,261.81 L448.2,261.94 L448.4,261.52 L448.6,261.46 L448.8,261.58 L449,261.46 L449.2,261.51 L449.4,261.31 L449.6,261.05 L449.8,261.03 L450,260.59 L450.2,260.27 L450.4,259.95 L450.6,259.32 L450.8,258.62 L451,257.74 L451.2,256.03 L451.4,253.06 L451.6,245.92 L451.8,231.18 L452,204.83 L452.2,167.82 L452.4,129.88 L452.6,112.47 L452.8,129.95 L453,168.01 L453.2,205.17 L453.4,231.15 L453.6,245.82 L453.8,252.92 L454,256.27 L454.2,257.61 L454.4,258.66 L454.6,259.46 L454.8,259.7 L455,260.15 L455.2,260.71 L455.4,260.89 L455.6,260.95 L455.8,260.93 L456,261.34 L456.2,261.28 L456.4,261.27 L456.6,261.12 L456.8,260.68 L457,259.94 L457.2,259.23 L457.4,258.88 L457.5,258.92 L457.6,259.01 L457.8,259.38 L458,260.06 L458.2,260.89 L458.4,261.38 L458.6,261.61 L458.8,262.06 L459,262.03 L459.2,261.85 L459.4,262.04 L459.6,262.23 L459.8,262.06 L460,262.24 L460.2,261.98 L460.4,262.12 L460.6,262.35 L460.8,262.26 L461,262.31 L461.2,262.13 L461.4,262.26 L461.6,262.29 L461.8,262.19 L462,262.35 L462.2,262.31 L462.4,262.5 L462.6,262.34 L462.8,262.28 L463,262.17 L463.2,262.18 L463.4,262.43 L463.6,262.17 L463.8,262.17 L464,262.2 L464.2,262.35 L464.4,262.47 L464.6,262.39 L464.8,262.47 L465,262.17 L465.2,262.15 L465.4,262.46 L465.6,262.28 L465.8,262.44 L466,262.29 L466.2,262.22 L466.4,262.25 L466.6,262.18 L466.8,262.5 L467,262.37 L467.2,262.27 L467.4,262.31 L467.6,262.28 L467.8,262.13 L468,262.46 L468.2,262.32 L468.4,262.45 L468.6,262.21 L468.8,262.24 L469,262.02 L469.2,261.76 L469.4,261.6 L469.6,260.35 L469.8,258.27 L470,257.38 L470.2,258.38 L470.4,259.93 L470.6,261.09 L470.8,261.26 L471,259.93 L471.2,257.6 L471.4,254.57 L471.5,254.12 L471.6,254.75 L471.8,257.28 L472,259.79 L472.2,261.12 L472.4,260.82 L472.6,259.65 L472.8,257.28 L473,255.96 L473.2,257.33 L473.4,259.42 L473.6,261.05 L473.8,260.98 L474,260.15 L474.2,257.81 L474.4,255.59 L474.5,255.11 L474.6,255.55 L474.8,257.82 L475,260.04 L475.2,261.33 L475.4,261.15 L475.6,260.27 L475.8,258.83 L476,258.02 L476.2,258.86 L476.4,260.21 L476.6,261.32 L476.8,261.25 L477,260.33 L477.2,258.68 L477.4,256.38 L477.5,256.07 L477.6,256.67 L477.8,258.44 L478,260.42 L478.2,261.39 L478.4,261.22 L478.6,259.86 L478.8,258.14 L479,257.21 L479.2,258.14 L479.4,260.16 L479.6,260.94 L479.8,261.33 L480,260.18 L480.2,257.9 L480.4,255.59 L480.5,255.03 L480.6,255.7 L480.8,257.92 L481,260.36 L481.2,261.21 L481.4,261.03 L481.6,259.92 L481.8,258.28 L482,257.06 L482.2,258.43 L482.4,259.95 L482.6,261.25 L482.8,261.54 L483,260.96 L483.2,259.96 L483.4,258.46 L483.5,258.34 L483.6,258.56 L483.8,259.86 L484,261.19 L484.2,261.73 L484.4,262.01 L484.6,262.36 L484.8,262.19 L485,262.36 L485.2,262.15 L485.4,262.35 L485.6,262.28 L485.8,262.34 L486,262.27 L486.2,262.18 L486.4,262.28 L486.6,262.25 L486.8,262.21 L487,262.45 L487.2,262.27 L487.4,262.32 L487.6,262.52 L487.8,262.47 L488,262.51 L488.2,262.5 L488.4,262.2 L488.6,262.25 L488.8,262.15 L489,262.4 L489.2,262.38 L489.4,262.24 L489.6,262.25 L489.8,262.32 L490,262.3 L490.2,262.06 L490.4,262.15 L490.6,261.54 L490.8,260.66 L491,258.98 L491.2,258.05 L491.4,259.17 L491.6,260.44 L491.8,261.04 L492,260.18 L492.2,258.38 L492.4,256.38 L492.5,256.03 L492.6,256.44 L492.8,258.51 L493,260.23 L493.2,261.14 L493.4,261.11 L493.6,259.82 L493.8,258.27 L494,257.07 L494.2,258.19 L494.4,259.77 L494.6,260.89 L494.8,261.02 L495,259.73 L495.2,257.08 L495.4,254.65 L495.5,254.12 L495.6,254.41 L495.8,257.03 L496,259.81 L496.2,260.78 L496.4,260.37 L496.6,259.1 L496.8,256.82 L497,255.69 L497.2,256.6 L497.4,258.78 L497.6,259.47 L497.8,257.73 L498,252.33 L498.2,240.8 L498.4,228.56 L498.5,226.37 L498.6,228.4 L498.8,240.79 L499,252.64 L499.2,258.29 L499.4,260.59 L499.6,261.22 L499.8,261.57 L500,261.81 L500.2,261.87 L500.4,261.9 L500.6,261.82 L500.8,262.13 L501,262.07 L501.2,262.13 L501.4,262.32 L501.6,262.02 L501.8,262.29 L502,262.02 L502.2,262.29 L502.4,262.33 L502.6,262.11 L502.8,262.23 L503,262.39 L503.2,262.25 L503.4,262.2 L503.6,262.07 L503.8,261.97 L504,262.06 L504.2,262.05 L504.4,261.92 L504.6,261.89 L504.8,261.74 L505,261.84 L505.2,261.63 L505.4,261.11 L505.6,260.26 L505.8,258.11 L506,253.07 L506.2,245.28 L506.4,237.56 L506.5,236.29 L506.6,237.78 L506.8,244.96 L507,253.12 L507.2,258.04 L507.4,260.49 L507.6,261.24 L507.8,261.68 L508,261.63 L508.2,261.96 L508.4,262.02 L508.6,262.03 L508.8,262.21 L509,262.27 L509.2,262.02 L509.4,262.11 L509.6,262.16 L509.8,262.12 L510,262.07 L510.2,262.17 L510.4,262.14 L510.6,262.35 L510.8,262.26 L511,262.13 L511.2,262.22 L511.4,262.28 L511.6,262.24 L511.8,262.16 L512,262.13 L512.2,262.1 L512.4,262.5 L512.6,262.4 L512.8,262.13 L513,262.38 L513.2,262.49 L513.4,262.32 L513.6,262.13 L513.8,262.28 L514,262.26 L514.2,262.15 L514.4,262.29 L514.6,262.07 L514.8,262.43 L515,262.31 L515.2,262.29 L515.4,262.4 L515.6,262.28 L515.8,262.11 L516,262.09 L516.2,262.03 L516.4,261.97 L516.6,262.25 L516.8,262.25 L517,262.01 L517.2,261.93 L517.4,262.08 L517.6,262.13 L517.8,262.13 L518,261.78 L518.2,261.98 L518.4,261.94 L518.6,261.84 L518.8,261.6 L519,261.46 L519.2,261.61 L519.4,261.28 L519.6,261.1 L519.8,260.84 L520,260.18 L520.2,259.39 L520.4,257.66 L520.6,255.63 L520.8,253.79 L521,252.35 L521.1,252.18 L521.2,252.27 L521.4,253.6 L521.6,255.45 L521.8,256.98 L522,258.2 L522.2,258.67 L522.4,258.71 L522.6,258.17 L522.8,256.7 L523,255.31 L523.2,253.79 L523.3,253.67 L523.4,254.02 L523.6,254.78 L523.8,256.22 L524,257.54 L524.2,258.1 L524.4,258.55 L524.6,258.25 L524.8,258.39 L525,258.01 L525.2,257.29 L525.4,256.04 L525.6,254.42 L525.8,252.72 L526,251 L526.2,250.21 L526.4,250.76 L526.6,252.28 L526.8,254.04 L527,255.48 L527.2,256.4 L527.4,256.49 L527.6,256.44 L527.8,255.94 L528,255.06 L528.2,254 L528.4,253.5 L528.6,253.94 L528.8,255.06 L529,256.12 L529.2,257.03 L529.4,257.4 L529.6,257.56 L529.8,257.65 L530,257.58 L530.2,257.2 L530.4,256.66 L530.6,255.08 L530.8,253.22 L531,250.59 L531.2,248.44 L531.3,248.23 L531.4,248.68 L531.6,250.43 L531.8,252.81 L532,254.08 L532.2,254.07 L532.4,253.01 L532.6,250.94 L532.8,250.15 L533,251.17 L533.2,252.66 L533.4,253.46 L533.6,253.19 L533.8,251.13 L534,248.76 L534.2,247.51 L534.4,248.8 L534.6,251.48 L534.8,253.94 L535,255.46 L535.2,256.19 L535.4,256.49 L535.6,255.94 L535.8,254.98 L536,253.98 L536.2,251.44 L536.4,247.14 L536.6,239.9 L536.8,228.4 L537,213.99 L537.2,200.12 L537.4,193.29 L537.6,198.02 L537.8,209.66 L538,222.35 L538.2,231.9 L538.4,237.4 L538.6,240.26 L538.8,241.16 L539,241.61 L539.2,241.85 L539.4,241.79 L539.6,241.99 L539.8,242.2 L540,242.2 L540.2,242.86 L540.4,243.08 L540.6,243.19 L540.8,243.83 L541,244.01 L541.2,244.28 L541.4,244.95 L541.6,245.14 L541.8,245.58 L542,245.69 L542.2,246.32 L542.4,246.42 L542.6,246.89 L542.8,247.36 L543,247.65 L543.2,248.31 L543.4,248.6 L543.6,249.07 L543.8,249.67 L544,249.99 L544.2,250.6 L544.4,250.9 L544.6,251.4 L544.8,251.66 L545,252.17 L545.2,252.49 L545.4,252.54 L545.6,253.09 L545.8,253.23 L546,253.68 L546.2,253.92 L546.4,254.25 L546.6,254.23 L546.8,254.59 L547,254.99 L547.2,255.33 L547.4,255.49 L547.6,255.48 L547.8,255.97 L548,256.03 L548.2,256.47 L548.4,256.84 L548.6,256.83 L548.8,257.42 L549,257.58 L549.2,257.67 L549.4,257.9 L549.6,258.25 L549.8,258.65 L550,258.78 L550.2,258.82 L550.4,259 L550.6,259.25 L550.8,259.73 L551,259.68 L551.2,260 L551.4,260.07 L551.6,260.39 L551.8,260.42 L552,260.47 L552.2,260.89 L552.4,260.88 L552.6,261.05 L552.8,261.2 L553,261.35 L553.2,261.07 L553.4,261.27 L553.6,261.27 L553.8,261.47 L554,261.67 L554.2,261.69 L554.4,261.42 L554.6,261.5 L554.8,261.77 L555,261.72 L555.2,261.59 L555.4,261.59 L555.6,261.37 L555.8,261.44 L556,260.84 L556.2,260.29 L556.4,259.13 L556.6,257.83 L556.8,257.37 L557,257.68 L557.2,258.83 L557.4,259.55 L557.6,259.87 L557.8,260.13 L558,260.21 L558.2,260.14 L558.4,260.04 L558.6,259.8 L558.8,259.62 L559,259.33 L559.2,259.42 L559.4,259.22 L559.6,259.02 L559.8,259.15 L560,259.35 L560.2,259 L560.4,259.11 L560.6,259.42 L560.8,259.39 L561,259.55 L561.2,259.83 L561.4,259.93 L561.6,260.26 L561.8,260.45 L562,260.83 L562.2,261.05 L562.4,260.86 L562.6,261.26 L562.8,261.51 L563,261.7 L563.2,261.79 L563.4,261.85 L563.6,261.95 L563.8,261.92 L564,261.96 L564.2,262.22 L564.4,262.3 L564.6,262.37 L564.8,262.29 L565,262.16 L565.2,262.37 L565.4,262.37 L565.6,262.29 L565.8,262.35 L566,262.24 L566.2,262.33 L566.4,262.28 L566.6,262.14 L566.8,262.26 L567,262.25 L567.2,262.52 L567.4,262.32 L567.6,262.28 L567.8,262.23 L568,262.23 L568.2,262.28 L568.4,262.2 L568.6,262.15 L568.8,262.49 L569,262.33 L569.2,262.33 L569.4,262.38 L569.6,262.27 L569.8,262.22 L570,262.18 L570.2,262.28 L570.4,262.28 L570.6,262.45 L570.8,262.38 L571,262.54 L571.2,262.3 L571.4,262.54 L571.6,262.4 L571.8,262.2 L572,262.24 L572.2,262.4 L572.4,262.57 L572.6,262.32 L572.8,262.49 L573,262.35 L573.2,262.53 L573.4,262.21 L573.6,262.37 L573.8,262.54 L574,262.29 L574.2,262.29 L574.4,262.19 L574.6,262.25 L574.8,262.29 L575,262.47 L575.2,262.27 L575.4,262.35 L575.6,262.27 L575.8,262.43 L576,262.54 L576.2,262.45 L576.4,262.27 L576.6,262.49 L576.8,262.58 L577,262.43 L577.2,262.23 L577.4,262.52 L577.6,262.55 L577.8,262.33 L578,262.25 L578.2,262.27 L578.4,262.41 L578.6,262.55 L578.8,262.46 L579,262.57 L579.2,262.29 L579.4,262.33 L579.6,262.5 L579.8,262.46 L580,262.37 L580.2,262.48 L580.4,262.34 L580.6,262.23 L580.8,262.37 L581,262.22 L581.2,262.46 L581.4,262.34 L581.6,262.4 L581.8,262.44 L582,262.31 L582.2,262.39 L582.4,262.21 L582.6,262.57 L582.8,262.43 L583,262.59 L583.2,262.22 L583.4,262.44 L583.6,262.48 L583.8,262.31 L584,262.21 L584.2,262.23 L584.4,262.21 L584.6,262.44 L584.8,262.16 L585,262.43 L585.2,262.25 L585.4,262.26 L585.6,262.25 L585.8,262.2 L586,262.19 L586.2,262.12 L586.4,261.95 L586.6,262.04 L586.8,261.77 L587,261.86 L587.2,261.78 L587.4,261.68 L587.6,261.37 L587.8,261.41 L588,261.35 L588.2,260.97 L588.4,260.72 L588.6,260.63 L588.8,260.6 L589,260.06 L589.2,259.78 L589.4,259.73 L589.6,259.56 L589.8,259.36 L590,258.94 L590.2,258.93 L590.4,258.37 L590.6,258.33 L590.8,257.81 L591,257.55 L591.2,257.36 L591.4,257.12 L591.6,257.1 L591.8,256.95 L592,256.65 L592.2,256.82 L592.4,256.49 L592.6,256.33 L592.8,256.29 L593,256.5 L593.2,256.59 L593.4,256.33 L593.6,256.35 L593.8,256.75 L594,256.66 L594.2,257.11 L594.4,257.09 L594.6,257.34 L594.8,257.44 L595,257.85 L595.2,257.95 L595.4,258.14 L595.6,258.63 L595.8,258.56 L596,259.07 L596.2,259.06 L596.4,259.54 L596.6,259.68 L596.8,260.1 L597,260 L597.2,260.42 L597.4,260.56 L597.6,260.95 L597.8,261.13 L598,261.17 L598.2,261.15 L598.4,261.3 L598.6,261.42 L598.8,261.6 L599,261.62 L599.2,261.69 L599.4,261.98 L599.6,262 L599.8,261.92 L600,262.24 L600.2,261.96 L600.4,262.13 L600.6,261.98 L600.8,262.27 L601,262.27 L601.2,262.02 L601.4,262.17 L601.6,262.14 L601.8,261.84 L602,261.73 L602.2,261.63 L602.4,261.59 L602.6,261.04 L602.8,260.96 L603,260.6 L603.2,260.21 L603.4,259.94 L603.6,259.79 L603.8,259.34 L604,259.54 L604.2,259.4 L604.4,259.75 L604.6,260.05 L604.8,260.09 L605,260.7 L605.2,261.07 L605.4,261.09 L605.6,261.23 L605.8,261.48 L606,261.99 L606.2,261.73 L606.4,262.19 L606.6,261.95 L606.8,262.23 L607,262 L607.2,262.04 L607.4,262.26 L607.6,262.02 L607.8,262.11 L608,262.33 L608.2,262.23 L608.4,262.27 L608.6,262.27 L608.8,261.85 L609,261.88 L609.2,262.05 L609.4,261.94 L609.6,261.61 L609.8,261.71 L610,261.51 L610.2,261.5 L610.4,261.27 L610.6,261.14 L610.8,261.43 L611,261.07 L611.2,261.21 L611.4,260.83 L611.6,260.92 L611.8,260.75 L612,260.85 L612.2,260.77 L612.4,261.01 L612.6,260.85 L612.8,261.15 L613,261.15 L613.2,261.08 L613.4,261.28 L613.6,261.44 L613.8,261.71 L614,261.58 L614.2,261.61 L614.4,262 L614.6,262.04 L614.8,262.05 L615,261.93 L615.2,261.94 L615.4,262.02 L615.6,261.98 L615.8,262.01 L616,262.22 L616.2,262.2 L616.4,262.28 L616.6,262.22 L616.8,262.09 L617,262.37 L617.2,262.36 L617.4,262.33 L617.6,262.33 L617.8,262.4 L618,262.52 L618.2,262.48 L618.4,262.42 L618.6,262.29 L618.8,262.26 L619,262.3 L619.2,262.52 L619.4,262.29 L619.6,262.29 L619.8,262.3 L620,262.19 L620.2,262.54 L620.4,262.14 L620.6,262.38 L620.8,262.51 L621,262.24 L621.2,262.38 L621.4,262.29 L621.6,262.23 L621.8,262.21 L622,262.18 L622.2,262.47 L622.4,262.44 L622.6,262.49 L622.8,262.15 L623,262.4 L623.2,262.25 L623.4,262.38 L623.6,262.34 L623.8,262.24 L624,262.5 L624.2,262.11 L624.4,262.41 L624.6,262.44 L624.8,262.3 L625,262.33 L625.2,262.48 L625.4,262.17 L625.6,262.32 L625.8,262.35 L626,262.18 L626.2,262.29 L626.4,262.13 L626.6,262.12 L626.8,262.07 L627,261.92 L627.2,261.25 L627.4,258.18 L627.6,248.25 L627.7,245.17 L627.8,248.27 L628,258.02 L628.2,261.45 L628.4,261.78 L628.6,262.04 L628.8,262.02 L629,262.03 L629.2,261.91 L629.4,261.83 L629.6,262.04 L629.8,261.62 L630,260.36 L630.2,253.75 L630.4,245.36 L630.6,253.63 L630.8,260.23 L631,261.75 L631.2,261.87 L631.4,262.06 L631.6,262.2 L631.8,262.26 L632,262.28 L632.2,261.96 L632.4,262.1 L632.6,262.29 L632.8,262.28 L633,262 L633.2,262.01 L633.4,262.04 L633.6,261.98 L633.8,262.07 L634,262.23 L634.2,262.11 L634.4,262.06 L634.6,261.89 L634.8,261.97 L635,262.16 L635.2,261.95 L635.4,261.72 L635.6,261.51 L635.8,261.31 L636,260.84 L636.2,260.01 L636.4,259.56 L636.6,258.78 L636.8,258.33 L637,258.02 L637.2,258.25 L637.4,258.73 L637.6,259.38 L637.8,259.88 L638,260.51 L638.2,261.09 L638.4,261.19 L638.6,261.43 L638.8,261.75 L639,261.6 L639.2,261.6 L639.4,261.49 L639.6,261.58 L639.8,261.05 L640,260.94 L640.2,260.59 L640.4,259.84 L640.6,259.43 L640.8,259.2 L641,258.98 L641.2,259.01 L641.4,259.25 L641.6,259.88 L641.8,260.33 L642,260.89 L642.2,261.04 L642.4,261.31 L642.6,261.54 L642.8,261.69 L643,261.54 L643.2,261.57 L643.4,261.64 L643.6,261.77 L643.8,261.45 L644,261.73 L644.2,261.59 L644.4,261.42 L644.6,261.48 L644.8,261.29 L645,261.12 L645.2,261.32 L645.4,261.08 L645.6,261.03 L645.8,260.91 L646,260.94 L646.2,260.73 L646.4,260.26 L646.6,260.3 L646.8,260.03 L647,259.79 L647.2,259.68 L647.4,259.22 L647.6,258.92 L647.8,258.73 L648,258.17 L648.2,257.77 L648.4,257.32 L648.6,256.96 L648.8,256.37 L649,255.82 L649.2,255.06 L649.4,254.22 L649.6,253.7 L649.8,252.77 L650,251.84 L650.2,250.64 L650.4,248.96 L650.5,248.18 L650.6,247.23 L650.8,245.45 L651,242.65 L651.2,239.51 L651.4,235.49 L651.6,227.83 L651.8,211.64 L652,183.51 L652.2,153.07 L652.3,146.41 L652.4,149.43 L652.6,173.55 L652.8,195.67 L653,205.77 L653.2,205.75 L653.4,195.23 L653.6,172.42 L653.8,147.42 L653.9,143.81 L654,149.88 L654.2,178.87 L654.4,206.23 L654.6,220.41 L654.8,226.4 L655,229.08 L655.2,230.55 L655.4,231.7 L655.6,232.06 L655.8,232.21 L656,232.1 L656.2,231.69 L656.4,231.42 L656.6,231.18 L656.8,230.63 L657,230.1 L657.2,229.28 L657.4,228.66 L657.6,227.99 L657.8,227.54 L658,226.8 L658.2,226.09 L658.4,225.28 L658.6,224.38 L658.8,223.21 L659,222.12 L659.2,220.41 L659.4,218.98 L659.6,216.84 L659.8,214.36 L660,211.89 L660.2,209.11 L660.4,205.92 L660.6,202.61 L660.8,198.98 L661,195.35 L661.2,191.98 L661.4,188.37 L661.6,185.46 L661.8,182.95 L662,181.01 L662.2,179.96 L662.4,180.13 L662.6,180.92 L662.8,183.06 L663,185.54 L663.2,189.18 L663.4,193.24 L663.6,197.29 L663.8,202.05 L664,206.17 L664.2,210.69 L664.4,214.63 L664.6,218.77 L664.8,222.16 L665,225.45 L665.2,228.18 L665.4,230.77 L665.6,232.98 L665.8,234.74 L666,236.35 L666.2,238.02 L666.4,238.98 L666.6,240.35 L666.8,241 L667,241.8 L667.2,242.55 L667.4,243.52 L667.6,244.24 L667.8,244.65 L668,245.36 L668.2,245.8 L668.4,246.65 L668.6,247.15 L668.8,247.53 L669,248.08 L669.2,248.93 L669.4,249.25 L669.6,250.14 L669.8,250.48 L670,251 L670.2,251.64 L670.4,251.99 L670.6,252.5 L670.8,252.67 L671,253.22 L671.2,253.13 L671.4,253.33 L671.6,252.87 L671.8,252.61 L672,251.22 L672.2,246.56 L672.4,235.89 L672.6,220.02 L672.8,210.54 L673,219.55 L673.2,235.34 L673.4,245.44 L673.5,248.28 L673.6,249.96 L673.8,251.14 L674,250.98 L674.2,247.66 L674.4,239.16 L674.6,224.99 L674.8,217.36 L675,226.8 L675.2,242.12 L675.4,252.16 L675.6,256.55 L675.8,258.32 L676,259.34 L676.2,259.81 L676.4,260.4 L676.6,260.38 L676.8,260.78 L677,261.12 L677.2,261.17 L677.4,261.27 L677.6,261.18 L677.8,261.29 L678,261.41 L678.2,261.71 L678.4,261.75 L678.6,261.54 L678.8,261.86 L679,261.54 L679.2,261.79 L679.4,261.97 L679.6,261.75 L679.8,262.01 L680,261.92 L680.2,261.69 L680.4,261.83 L680.6,261.89 L680.8,261.83 L681,262.04 L681.2,261.83 L681.4,262.08 L681.6,261.9 L681.8,261.82 L682,262.03 L682.2,261.85 L682.4,262.05 L682.6,262.15 L682.8,262.08 L683,262.04 L683.2,261.87 L683.4,262.07 L683.6,261.92 L683.8,262.14 L684,261.94 L684.2,262.13 L684.4,262.04 L684.6,262.06 L684.8,262.18 L685,261.99 L685.2,261.99 L685.4,262.31 L685.6,262.07 L685.8,262.28 L686,262.29 L686.2,262.14 L686.4,262.01 L686.6,261.99 L686.8,262.31 L687,262.01 L687.2,262.16 L687.4,262.18 L687.6,262.02 L687.8,262.16 L688,262.04 L688.2,262.19 L688.4,262.18 L688.6,262.13 L688.8,262.06 L689,262.15 L689.2,262.07 L689.4,262.04 L689.6,262.09 L689.8,262.34 L690,262.19 L690.2,262.35 L690.4,262 L690.6,262.37 L690.8,262.19 L691,262.31 L691.2,262.23 L691.4,262.27 L691.6,262.09 L691.8,262.3 L692,262.06 L692.2,262.1 L692.4,262.01 L692.6,262.15 L692.8,262.2 L693,262.11 L693.2,262.35 L693.4,262.02 L693.6,262.22 L693.8,262.08 L694,262.22 L694.2,262.29 L694.4,262.26 L694.6,261.99 L694.8,262.06 L695,262.19 L695.2,262.34 L695.4,261.95 L695.6,262.17 L695.8,262.19 L696,262.22 L696.2,262.01 L696.4,262.17 L696.6,262 L696.8,262.15 L697,261.72 L697.2,262.02 L697.4,261.69 L697.6,261.51 L697.8,260.99 L698,259.78 L698.2,255.85 L698.4,247.72 L698.6,241.87 L698.8,247.5 L699,255.45 L699.2,259.49 L699.4,260.64 L699.6,260.87 L699.8,260.91 L700,259.75 L700.2,255.62 L700.4,247.43 L700.6,241.84 L700.8,247.55 L701,255.68 L701.2,259.69 L701.4,260.87 L701.6,261.03 L701.8,261.33 L702,261.47 L702.2,261.45 L702.4,261.15 L702.6,261.36 L702.8,261.14 L703,260.97 L703.2,261.17 L703.4,260.9 L703.6,260.67 L703.8,259.85 L704,258.7 L704.2,256.06 L704.4,253.13 L704.5,252.49 L704.6,252.95 L704.8,255.52 L705,257.8 L705.2,258.84 L705.4,259.24 L705.6,259.14 L705.8,258.99 L706,258.51 L706.2,258.49 L706.4,257.96 L706.6,257.63 L706.8,256.32 L707,254.42 L707.2,250.2 L707.4,245.52 L707.5,244.84 L707.6,245.17 L707.8,248.95 L708,252.52 L708.2,254 L708.4,254.39 L708.6,254.35 L708.8,253.87 L709,253.28 L709.2,251.92 L709.4,249.16 L709.6,243.73 L709.8,237.83 L709.9,236.78 L710,237.57 L710.2,242.61 L710.4,247.28 L710.6,249.8 L710.8,250.5 L711,250.32 L711.2,250.27 L711.4,250.13 L711.6,249.76 L711.8,248.67 L712,246.95 L712.2,243.14 L712.4,239.28 L712.5,238.84 L712.6,239.33 L712.8,243.15 L713,246.57 L713.2,248.3 L713.4,248.89 L713.6,249.19 L713.8,249.52 L714,249.51 L714.2,249.39 L714.4,249.01 L714.6,247.97 L714.8,245.79 L715,243.13 L715.1,242.83 L715.2,243.5 L715.4,246.23 L715.6,249.26 L715.8,250.55 L716,251.59 L716.2,251.75 L716.4,252.12 L716.6,252.69 L716.8,252.7 L717,252.8 L717.2,252.91 L717.4,251.8 L717.6,249.65 L717.8,246.96 L717.9,246.64 L718,247.45 L718.2,250.28 L718.4,253.22 L718.6,254.28 L718.8,254.83 L719,254.17 L719.2,253.6 L719.4,253.09 L719.6,253.86 L719.8,255.29 L720,255.97 L720.2,256.59 L720.4,256.56 L720.6,256.65 L720.8,256.52 L721,256.59 L721.2,256.53 L721.4,256.12 L721.6,255.7 L721.8,255.44 L722,254.82 L722.2,253.97 L722.4,252.82 L722.6,251.93 L722.8,250.54 L723,249.21 L723.2,247.2 L723.4,245.28 L723.6,242.97 L723.8,240.31 L724,237.54 L724.2,234.52 L724.4,231.3 L724.6,227.63 L724.8,223.9 L725,220.37 L725.2,216.19 L725.4,212.73 L725.6,209.03 L725.8,205.58 L726,202.48 L726.2,200.03 L726.4,198.09 L726.6,196.69 L726.8,196.11 L727,195.99 L727.2,197.01 L727.4,198.53 L727.6,201.04 L727.8,203.7 L728,206.46 L728.2,209.97 L728.4,213.48 L728.6,216.87 L728.8,220.61 L729,224.31 L729.2,227.71 L729.4,230.86 L729.6,234.17 L729.8,236.88 L730,239.67 L730.2,242.08 L730.4,244.53 L730.6,246.4 L730.8,248.25 L731,249.78 L731.2,251.06 L731.4,252.52 L731.6,253.49 L731.8,254.42 L732,255.08 L732.2,255.75 L732.4,256.53 L732.6,257.18 L732.8,257.65 L733,257.89 L733.2,258.18 L733.4,258.66 L733.6,259.09 L733.8,259.07 L734,259.53 L734.2,259.52 L734.4,259.76 L734.6,259.83 L734.8,260.08 L735,260.25 L735.2,260.61 L735.4,260.72 L735.6,260.52 L735.8,260.66 L736,261 L736.2,260.78 L736.4,260.9 L736.6,261.02 L736.8,260.95 L737,261.06 L737.2,261.17 L737.4,261.22 L737.6,261.5 L737.8,261.26 L738,261.28 L738.2,261.6 L738.4,261.45 L738.6,261.64 L738.8,261.59 L739,261.68 L739.2,261.52 L739.4,261.48 L739.6,261.75 L739.8,261.66 L740,261.72 L740.2,261.79 L740.4,261.84 L740.6,261.68 L740.8,261.73 L741,261.97 L741.2,261.83 L741.4,261.76 L741.6,261.91 L741.8,261.78 L742,262 L742.2,261.72 L742.4,262.05 L742.6,261.96 L742.8,261.89 L743,262.14 L743.2,261.88 L743.4,261.88 L743.6,261.82 L743.8,262.03 L744,262.12 L744.2,262.1 L744.4,262 L744.6,262.17 L744.8,261.9 L745,261.99 L745.2,262.13 L745.4,262.27 L745.6,262.15 L745.8,262.18 L746,262.22 L746.2,262.08 L746.4,262.3 L746.6,262.23 L746.8,262.08 L747,262.1 L747.2,262.27 L747.4,262.1 L747.6,262.04 L747.8,262.32 L748,262.19 L748.2,262.19 L748.4,262.26 L748.6,262.35 L748.8,262.05 L749,262.14 L749.2,262.04 L749.4,262.18 L749.6,262.22 L749.8,262.36 L750,262.29 L750.2,262.26 L750.4,262.2 L750.6,262.27 L750.8,262.15 L751,262.39 L751.2,262.37 L751.4,262.39 L751.6,262.12 L751.8,262.33 L752,262.37 L752.2,262.27 L752.4,262.43 L752.6,262.44 L752.8,262.38 L753,262.41 L753.2,262.35 L753.4,262.44 L753.6,262.14 L753.8,262.38 L754,262.38 L754.2,262.35 L754.4,262.21 L754.6,262.13 L754.8,262.35 L755,262.44 L755.2,262.22 L755.4,262.2 L755.6,262.21 L755.8,262.16 L756,262.39 L756.2,262.52 L756.4,262.45 L756.6,262.27 L756.8,262.41 L757,262.16 L757.2,262.47 L757.4,262.27 L757.6,262.14 L757.8,262.39 L758,262.2 L758.2,262.26 L758.4,262.17 L758.6,262.33 L758.8,262.37 L759,262.48 L759.2,262.17 L759.4,262.49 L759.6,262.2 L759.8,262.25 L760,262.41 L760.2,262.3 L760.4,262.3 L760.6,262.39 L760.8,262.25 L761,262.49 L761.2,262.25 L761.4,262.51 L761.6,262.5 L761.8,262.39 L762,262.19 L762.2,262.49 L762.4,262.19 L762.6,262.38 L762.8,262.35 L763,262.21 L763.2,262.43 L763.4,262.47 L763.6,262.42 L763.8,262.35 L764,262.39 L764.2,262.42 L764.4,262.28 L764.6,262.54 L764.8,262.59 L765,262.51 L765.2,262.58 L765.4,262.33 L765.6,262.59 L765.8,262.22 L766,262.39 L766.2,262.25 L766.4,262.38 L766.6,262.47 L766.8,262.48 L767,262.38 L767.2,262.34 L767.4,262.28 L767.6,262.37 L767.8,262.32 L768,262.28 L768.2,262.5 L768.4,262.41 L768.6,262.38 L768.8,262.29 L769,262.49 L769.2,262.29 L769.4,262.32 L769.6,262.44 L769.8,262.49 L770,262.6 L770.2,262.51 L770.4,262.59 L770.6,262.58 L770.8,262.51 L771,262.5 L771.2,262.24 L771.4,262.3 L771.6,262.22 L771.8,262.56" fill="none" stroke="#222" stroke-width="1.1" stroke-linejoin="round" />
<g font-family='"Liberation Serif", serif'>
<text x="12.1" y="51" font-size="23.5" font-weight="normal" text-anchor="start" fill="#000" >A</text>
<text x="38" y="90" font-size="19" font-weight="bold" text-anchor="start" fill="#000" letter-spacing="0.3" >x8</text>
<text x="383.7" y="85.9" font-size="19" font-weight="bold" text-anchor="start" fill="#000" letter-spacing="0.3" >x4</text>
<text x="338.6" y="10.1" font-size="12" font-weight="bold" text-anchor="start" fill="#111" letter-spacing="1.3" >EDTA</text>
<text x="188" y="180.9" font-size="13.7" font-weight="bold" text-anchor="start" fill="#111" letter-spacing="-0.2" >Water</text>
<text x="33.6" y="246.8" font-size="12.5" font-weight="bold" text-anchor="start" fill="#111" letter-spacing="1.2" >20</text>
<text x="57.4" y="232.3" font-size="12.5" font-weight="bold" text-anchor="start" fill="#111" letter-spacing="1.2" >19</text>
<text x="92.5" y="222.7" font-size="12.5" font-weight="bold" text-anchor="start" fill="#111" letter-spacing="1.2" >18</text>
<text x="230.6" y="223.5" font-size="12.5" font-weight="bold" text-anchor="start" fill="#111" letter-spacing="1.2" >6</text>
<text x="266.8" y="207.8" font-size="12.5" font-weight="bold" text-anchor="start" fill="#111" letter-spacing="1.2" >17</text>
<text x="376.8" y="205.6" font-size="12.5" font-weight="bold" text-anchor="start" fill="#111" letter-spacing="1.2" >16</text>
<text x="433.6" y="99.5" font-size="12.5" font-weight="bold" text-anchor="start" fill="#111" letter-spacing="1.2" >14</text>
<text x="475.2" y="219" font-size="12.5" font-weight="bold" text-anchor="start" fill="#111" letter-spacing="1.2" >13</text>
<text x="489.1" y="215.1" font-size="12.5" font-weight="bold" text-anchor="start" fill="#111" letter-spacing="1.2" >12</text>
<text x="502.9" y="227.1" font-size="12.5" font-weight="bold" text-anchor="start" fill="#111" letter-spacing="1.2" >11</text>
<text x="517.9" y="220.5" font-size="12.5" font-weight="bold" text-anchor="start" fill="#111" letter-spacing="1.2" >10</text>
<text x="535.7" y="180.4" font-size="12.5" font-weight="bold" text-anchor="start" fill="#111" letter-spacing="1.2" >9</text>
<text x="562.6" y="217.7" font-size="12.5" font-weight="bold" text-anchor="start" fill="#111" letter-spacing="1.2" >8</text>
<text x="627.3" y="234.8" font-size="12.5" font-weight="bold" text-anchor="start" fill="#111" letter-spacing="1.2" >7</text>
<text x="651.2" y="138.3" font-size="12.5" font-weight="bold" text-anchor="start" fill="#111" letter-spacing="1.2" >6</text>
<text x="661.7" y="172.6" font-size="12.5" font-weight="bold" text-anchor="start" fill="#111" letter-spacing="1.2" >1</text>
<text x="673.1" y="207.4" font-size="12.5" font-weight="bold" text-anchor="start" fill="#111" letter-spacing="1.2" >5</text>
<text x="693.9" y="236.8" font-size="12.5" font-weight="bold" text-anchor="start" fill="#111" letter-spacing="1.2" >4</text>
<text x="707.8" y="211" font-size="12.5" font-weight="bold" text-anchor="start" fill="#111" letter-spacing="1.2" >3</text>
<text x="716.3" y="197.9" font-size="12.5" font-weight="bold" text-anchor="start" fill="#111" letter-spacing="1.2" >2</text>
<text x="728.3" y="187.5" font-size="12.5" font-weight="bold" text-anchor="start" fill="#111" letter-spacing="1.2" >1</text>
</g>
<line x1="297.4" y1="25.2" x2="325.2" y2="13.2" stroke="#444" stroke-width="0.9"/>
<line x1="63.6" y1="237.8" x2="63.8" y2="257.2" stroke="#444" stroke-width="0.9"/>
<line x1="60.3" y1="257.3" x2="68.6" y2="257.3" stroke="#444" stroke-width="0.9"/>
<line x1="96" y1="227.4" x2="94.3" y2="257.2" stroke="#444" stroke-width="0.9"/>
<line x1="231.6" y1="231.9" x2="229.3" y2="259.7" stroke="#444" stroke-width="0.9"/>
<line x1="255" y1="219.3" x2="348.3" y2="218.7" stroke="#444" stroke-width="0.9"/>
<line x1="378.8" y1="211.2" x2="370.6" y2="229.5" stroke="#444" stroke-width="0.9"/>
<line x1="425.7" y1="104" x2="453.8" y2="104" stroke="#444" stroke-width="0.9"/>
<line x1="481.3" y1="222.4" x2="480.7" y2="246" stroke="#444" stroke-width="0.9"/>
<line x1="476.4" y1="246.3" x2="484" y2="246.3" stroke="#444" stroke-width="0.9"/>
<line x1="524.8" y1="225.3" x2="522.1" y2="243.8" stroke="#444" stroke-width="0.9"/>
<line x1="516.7" y1="244.1" x2="527" y2="244.1" stroke="#444" stroke-width="0.9"/>
<line x1="562.7" y1="225.3" x2="556.8" y2="249.7" stroke="#444" stroke-width="0.9"/>
<line x1="711.9" y1="214.3" x2="710.5" y2="233.2" stroke="#444" stroke-width="0.9"/>
<line x1="719.8" y1="204.4" x2="717.9" y2="239.2" stroke="#444" stroke-width="0.9"/>
<line x1="25" y1="282.2" x2="379.3" y2="282.2" stroke="#000" stroke-width="1.4"/>
<line x1="382.7" y1="282.2" x2="772.2" y2="282.2" stroke="#000" stroke-width="1.4"/>
<line x1="25" y1="281.5" x2="25" y2="288.3" stroke="#000" stroke-width="1.4"/>
<line x1="56.4" y1="281.5" x2="56.4" y2="288.3" stroke="#000" stroke-width="1.4"/>
<line x1="87.8" y1="281.5" x2="87.8" y2="288.3" stroke="#000" stroke-width="1.4"/>
<line x1="118.6" y1="281.5" x2="118.6" y2="288.3" stroke="#000" stroke-width="1.4"/>
<line x1="150" y1="281.5" x2="150" y2="288.3" stroke="#000" stroke-width="1.4"/>
<line x1="188.7" y1="281.5" x2="188.7" y2="288.3" stroke="#000" stroke-width="1.4"/>
<line x1="245.9" y1="281.5" x2="245.9" y2="288.3" stroke="#000" stroke-width="1.4"/>
<line x1="313" y1="281.5" x2="313" y2="288.3" stroke="#000" stroke-width="1.4"/>
<line x1="382.7" y1="281.5" x2="382.7" y2="288.3" stroke="#000" stroke-width="1.4"/>
<line x1="219" y1="282.2" x2="219" y2="284.6" stroke="#000" stroke-width="1.4"/>
<line x1="232.7" y1="282.2" x2="232.7" y2="284.6" stroke="#000" stroke-width="1.4"/>
<line x1="259.2" y1="282.2" x2="259.2" y2="284.6" stroke="#000" stroke-width="1.4"/>
<line x1="272.7" y1="282.2" x2="272.7" y2="284.6" stroke="#000" stroke-width="1.4"/>
<line x1="286.2" y1="282.2" x2="286.2" y2="284.6" stroke="#000" stroke-width="1.4"/>
<line x1="299.5" y1="282.2" x2="299.5" y2="284.6" stroke="#000" stroke-width="1.4"/>
<line x1="326.3" y1="282.2" x2="326.3" y2="284.6" stroke="#000" stroke-width="1.4"/>
<line x1="339.8" y1="282.2" x2="339.8" y2="284.6" stroke="#000" stroke-width="1.4"/>
<line x1="353" y1="282.2" x2="353" y2="284.6" stroke="#000" stroke-width="1.4"/>
<line x1="366.3" y1="282.2" x2="366.3" y2="284.6" stroke="#000" stroke-width="1.4"/>
<line x1="415.16" y1="282.2" x2="415.16" y2="288.3" stroke="#000" stroke-width="1.4"/>
<line x1="447.62" y1="282.2" x2="447.62" y2="288.3" stroke="#000" stroke-width="1.4"/>
<line x1="480.08" y1="282.2" x2="480.08" y2="288.3" stroke="#000" stroke-width="1.4"/>
<line x1="512.54" y1="282.2" x2="512.54" y2="288.3" stroke="#000" stroke-width="1.4"/>
<line x1="545" y1="282.2" x2="545" y2="288.3" stroke="#000" stroke-width="1.4"/>
<line x1="577.46" y1="282.2" x2="577.46" y2="288.3" stroke="#000" stroke-width="1.4"/>
<line x1="609.92" y1="282.2" x2="609.92" y2="288.3" stroke="#000" stroke-width="1.4"/>
<line x1="642.38" y1="282.2" x2="642.38" y2="288.3" stroke="#000" stroke-width="1.4"/>
<line x1="674.84" y1="282.2" x2="674.84" y2="288.3" stroke="#000" stroke-width="1.4"/>
<line x1="707.3" y1="282.2" x2="707.3" y2="288.3" stroke="#000" stroke-width="1.4"/>
<line x1="739.76" y1="282.2" x2="739.76" y2="288.3" stroke="#000" stroke-width="1.4"/>
<line x1="398.93" y1="282.2" x2="398.93" y2="284.6" stroke="#000" stroke-width="1.4"/>
<line x1="431.39" y1="282.2" x2="431.39" y2="284.6" stroke="#000" stroke-width="1.4"/>
<line x1="463.85" y1="282.2" x2="463.85" y2="284.6" stroke="#000" stroke-width="1.4"/>
<line x1="496.31" y1="282.2" x2="496.31" y2="284.6" stroke="#000" stroke-width="1.4"/>
<line x1="528.77" y1="282.2" x2="528.77" y2="284.6" stroke="#000" stroke-width="1.4"/>
<line x1="561.23" y1="282.2" x2="561.23" y2="284.6" stroke="#000" stroke-width="1.4"/>
<line x1="593.69" y1="282.2" x2="593.69" y2="284.6" stroke="#000" stroke-width="1.4"/>
<line x1="626.15" y1="282.2" x2="626.15" y2="284.6" stroke="#000" stroke-width="1.4"/>
<line x1="658.61" y1="282.2" x2="658.61" y2="284.6" stroke="#000" stroke-width="1.4"/>
<line x1="691.07" y1="282.2" x2="691.07" y2="284.6" stroke="#000" stroke-width="1.4"/>
<line x1="723.53" y1="282.2" x2="723.53" y2="284.6" stroke="#000" stroke-width="1.4"/>
<line x1="755.99" y1="282.2" x2="755.99" y2="284.6" stroke="#000" stroke-width="1.4"/>
<g font-family='"Liberation Serif", serif'>
<text x="24.6" y="304.1" font-size="10.5" font-weight="bold" text-anchor="middle" fill="#111" letter-spacing="1.0" >8.0</text>
<text x="56.9" y="304.1" font-size="10.5" font-weight="bold" text-anchor="middle" fill="#111" letter-spacing="1.0" >7.5</text>
<text x="88.3" y="304.1" font-size="10.5" font-weight="bold" text-anchor="middle" fill="#111" letter-spacing="1.0" >7.0</text>
<text x="119.1" y="304.1" font-size="10.5" font-weight="bold" text-anchor="middle" fill="#111" letter-spacing="1.0" >6.5</text>
<text x="150.1" y="304.1" font-size="10.5" font-weight="bold" text-anchor="middle" fill="#111" letter-spacing="1.0" >6.0</text>
<text x="189.2" y="304.1" font-size="10.5" font-weight="bold" text-anchor="middle" fill="#111" letter-spacing="1.0" >5.0</text>
<text x="246.4" y="304.1" font-size="10.5" font-weight="bold" text-anchor="middle" fill="#111" letter-spacing="1.0" >4.0</text>
<text x="313.5" y="304.1" font-size="10.5" font-weight="bold" text-anchor="middle" fill="#111" letter-spacing="1.0" >3.5</text>
<text x="383.2" y="304.1" font-size="10.5" font-weight="bold" text-anchor="middle" fill="#111" letter-spacing="1.0" >3.0</text>
<text x="415.66" y="304.1" font-size="10.5" font-weight="bold" text-anchor="middle" fill="#111" letter-spacing="1.0" >2.8</text>
<text x="448.12" y="304.1" font-size="10.5" font-weight="bold" text-anchor="middle" fill="#111" letter-spacing="1.0" >2.6</text>
<text x="480.58" y="304.1" font-size="10.5" font-weight="bold" text-anchor="middle" fill="#111" letter-spacing="1.0" >2.4</text>
<text x="513.04" y="304.1" font-size="10.5" font-weight="bold" text-anchor="middle" fill="#111" letter-spacing="1.0" >2.2</text>
<text x="545.5" y="304.1" font-size="10.5" font-weight="bold" text-anchor="middle" fill="#111" letter-spacing="1.0" >2.0</text>
<text x="577.96" y="304.1" font-size="10.5" font-weight="bold" text-anchor="middle" fill="#111" letter-spacing="1.0" >1.8</text>
<text x="610.42" y="304.1" font-size="10.5" font-weight="bold" text-anchor="middle" fill="#111" letter-spacing="1.0" >1.6</text>
<text x="642.88" y="304.1" font-size="10.5" font-weight="bold" text-anchor="middle" fill="#111" letter-spacing="1.0" >1.4</text>
<text x="675.34" y="304.1" font-size="10.5" font-weight="bold" text-anchor="middle" fill="#111" letter-spacing="1.0" >1.2</text>
<text x="707.8" y="304.1" font-size="10.5" font-weight="bold" text-anchor="middle" fill="#111" letter-spacing="1.0" >1.0</text>
<text x="747.8" y="300.5" font-size="10.5" font-weight="bold" text-anchor="middle" fill="#111" letter-spacing="0.9" >ppm</text>
</g>
<rect x="50.8" y="333.2" width="194.4" height="160" fill="none" stroke="#000" stroke-width="1.6"/>
<line x1="50.8" y1="424.6" x2="245.2" y2="424.6" stroke="#000" stroke-width="1.7"/>
<line x1="161.7" y1="333.2" x2="161.7" y2="493.2" stroke="#000" stroke-width="1.7"/>
<line x1="49" y1="481.85" x2="50.8" y2="481.85" stroke="#000" stroke-width="1.1"/>
<line x1="47.8" y1="470.4" x2="50.8" y2="470.4" stroke="#000" stroke-width="1.1"/>
<line x1="49" y1="458.95" x2="50.8" y2="458.95" stroke="#000" stroke-width="1.1"/>
<line x1="47.8" y1="447.5" x2="50.8" y2="447.5" stroke="#000" stroke-width="1.1"/>
<line x1="49" y1="436.05" x2="50.8" y2="436.05" stroke="#000" stroke-width="1.1"/>
<line x1="47.8" y1="424.6" x2="50.8" y2="424.6" stroke="#000" stroke-width="1.1"/>
<line x1="49" y1="413.15" x2="50.8" y2="413.15" stroke="#000" stroke-width="1.1"/>
<line x1="47.8" y1="401.7" x2="50.8" y2="401.7" stroke="#000" stroke-width="1.1"/>
<line x1="49" y1="390.25" x2="50.8" y2="390.25" stroke="#000" stroke-width="1.1"/>
<line x1="47.8" y1="378.8" x2="50.8" y2="378.8" stroke="#000" stroke-width="1.1"/>
<line x1="49" y1="367.35" x2="50.8" y2="367.35" stroke="#000" stroke-width="1.1"/>
<line x1="47.8" y1="355.9" x2="50.8" y2="355.9" stroke="#000" stroke-width="1.1"/>
<line x1="49" y1="344.45" x2="50.8" y2="344.45" stroke="#000" stroke-width="1.1"/>
<line x1="50.9" y1="493.2" x2="50.9" y2="495.7" stroke="#000" stroke-width="1.1"/>
<line x1="64.75" y1="493.2" x2="64.75" y2="494.7" stroke="#000" stroke-width="1.1"/>
<line x1="78.6" y1="493.2" x2="78.6" y2="495.7" stroke="#000" stroke-width="1.1"/>
<line x1="92.45" y1="493.2" x2="92.45" y2="494.7" stroke="#000" stroke-width="1.1"/>
<line x1="106.3" y1="493.2" x2="106.3" y2="495.7" stroke="#000" stroke-width="1.1"/>
<line x1="120.15" y1="493.2" x2="120.15" y2="494.7" stroke="#000" stroke-width="1.1"/>
<line x1="134" y1="493.2" x2="134" y2="495.7" stroke="#000" stroke-width="1.1"/>
<line x1="147.85" y1="493.2" x2="147.85" y2="494.7" stroke="#000" stroke-width="1.1"/>
<line x1="161.7" y1="493.2" x2="161.7" y2="495.7" stroke="#000" stroke-width="1.1"/>
<line x1="175.55" y1="493.2" x2="175.55" y2="494.7" stroke="#000" stroke-width="1.1"/>
<line x1="189.4" y1="493.2" x2="189.4" y2="495.7" stroke="#000" stroke-width="1.1"/>
<line x1="203.25" y1="493.2" x2="203.25" y2="494.7" stroke="#000" stroke-width="1.1"/>
<line x1="217.1" y1="493.2" x2="217.1" y2="495.7" stroke="#000" stroke-width="1.1"/>
<line x1="230.95" y1="493.2" x2="230.95" y2="494.7" stroke="#000" stroke-width="1.1"/>
<path d="M50.8,333.6 L48.6,340 L53,340 Z" fill="#fff" stroke="#000" stroke-width="1.2" stroke-linejoin="miter"/>
<path d="M243.7,493.2 L237.7,491.4 L237.7,495 Z" fill="#fff" stroke="#000" stroke-width="1.2"/>
<g font-family='"Liberation Serif", serif'>
<text x="12.7" y="345.8" font-size="23.5" font-weight="normal" text-anchor="start" fill="#000" >B</text>
<text x="35.8" y="360.4" font-size="10.5" font-weight="bold" text-anchor="middle" fill="#111" letter-spacing="0.9" >0.9</text>
<text x="35.8" y="382.9" font-size="10.5" font-weight="bold" text-anchor="middle" fill="#111" letter-spacing="0.9" >0.6</text>
<text x="35.8" y="406" font-size="10.5" font-weight="bold" text-anchor="middle" fill="#111" letter-spacing="0.9" >0.3</text>
<text x="35.8" y="428.6" font-size="10.5" font-weight="bold" text-anchor="middle" fill="#111" letter-spacing="0.9" >0</text>
<text x="34.2" y="451.6" font-size="10.5" font-weight="bold" text-anchor="middle" fill="#111" letter-spacing="0.9" >-0.3</text>
<text x="34.2" y="474.3" font-size="10.5" font-weight="bold" text-anchor="middle" fill="#111" letter-spacing="0.9" >-0.6</text>
<text x="34.2" y="496.8" font-size="10.5" font-weight="bold" text-anchor="middle" fill="#111" letter-spacing="0.9" >-0.9</text>
<text x="55.5" y="509.8" font-size="10.5" font-weight="bold" text-anchor="middle" fill="#111" letter-spacing="0.9" >-0.8</text>
<text x="83" y="509.8" font-size="10.5" font-weight="bold" text-anchor="middle" fill="#111" letter-spacing="0.9" >-0.6</text>
<text x="110.9" y="509.8" font-size="10.5" font-weight="bold" text-anchor="middle" fill="#111" letter-spacing="0.9" >-0.4</text>
<text x="138.1" y="509.8" font-size="10.5" font-weight="bold" text-anchor="middle" fill="#111" letter-spacing="0.9" >-0.2</text>
<text x="162.4" y="509.8" font-size="10.5" font-weight="bold" text-anchor="middle" fill="#111" letter-spacing="0.9" >0</text>
<text x="192.8" y="509.8" font-size="10.5" font-weight="bold" text-anchor="middle" fill="#111" letter-spacing="0.9" >0.2</text>
<text x="220.4" y="509.8" font-size="10.5" font-weight="bold" text-anchor="middle" fill="#111" letter-spacing="0.9" >0.4</text>
<text x="163.3" y="525.8" font-size="11.2" font-weight="bold" text-anchor="middle" fill="#111" letter-spacing="0.6" >1.1534 * t[1]</text>
<text transform="translate(18.4,421.2) rotate(-90)" font-size="10.8" font-weight="bold" text-anchor="middle" fill="#111" letter-spacing="0.9">1.1979*t0[1]</text>
<text x="62.6" y="351.9" font-size="11.8" font-weight="bold" text-anchor="start" fill="#111" letter-spacing="0.2" >R<tspan font-size="5.5" dy="-4.8">2</tspan><tspan dy="4.8">X=0.38</tspan></text>
<text x="62.2" y="363.2" font-size="11.8" font-weight="bold" text-anchor="start" fill="#111" letter-spacing="0.2" >Q<tspan font-size="5.5" dy="-4.8">2</tspan><tspan dy="4.8">=0.113</tspan></text>
<text x="190" y="351.2" font-size="10.8" font-weight="bold" text-anchor="start" fill="#111" letter-spacing="1.1" >ARDS</text>
<text x="190" y="360.2" font-size="10.8" font-weight="bold" text-anchor="start" fill="#111" letter-spacing="0.95" >no-ARDS</text>
</g>
<rect x="179.2" y="343.9" width="7.1" height="6.9" fill="#ff0000"/>
<rect x="179.2" y="352.7" width="7.1" height="6.9" fill="#0000f5"/>
<circle cx="149.4" cy="342.6" r="3.55" fill="#0000f5" stroke="#0000b0" stroke-width="0.6"/>
<circle cx="168.6" cy="379.7" r="3.55" fill="#0000f5" stroke="#0000b0" stroke-width="0.6"/>
<circle cx="170.4" cy="385.9" r="3.55" fill="#0000f5" stroke="#0000b0" stroke-width="0.6"/>
<circle cx="176.4" cy="388.3" r="3.55" fill="#0000f5" stroke="#0000b0" stroke-width="0.6"/>
<circle cx="161.1" cy="410.3" r="3.55" fill="#0000f5" stroke="#0000b0" stroke-width="0.6"/>
<circle cx="167.8" cy="408.7" r="3.55" fill="#0000f5" stroke="#0000b0" stroke-width="0.6"/>
<circle cx="174" cy="410.3" r="3.55" fill="#0000f5" stroke="#0000b0" stroke-width="0.6"/>
<circle cx="195.5" cy="412.4" r="3.55" fill="#0000f5" stroke="#0000b0" stroke-width="0.6"/>
<circle cx="195.5" cy="416.6" r="3.55" fill="#0000f5" stroke="#0000b0" stroke-width="0.6"/>
<circle cx="186" cy="416.1" r="3.55" fill="#0000f5" stroke="#0000b0" stroke-width="0.6"/>
<circle cx="209.5" cy="407.5" r="3.55" fill="#0000f5" stroke="#0000b0" stroke-width="0.6"/>
<circle cx="169" cy="419.5" r="3.55" fill="#0000f5" stroke="#0000b0" stroke-width="0.6"/>
<circle cx="181.4" cy="421.5" r="3.55" fill="#0000f5" stroke="#0000b0" stroke-width="0.6"/>
<circle cx="184.8" cy="422.4" r="3.55" fill="#0000f5" stroke="#0000b0" stroke-width="0.6"/>
<circle cx="176.5" cy="423.6" r="3.55" fill="#0000f5" stroke="#0000b0" stroke-width="0.6"/>
<circle cx="183.9" cy="425.7" r="3.55" fill="#0000f5" stroke="#0000b0" stroke-width="0.6"/>
<circle cx="177.6" cy="423.4" r="3.55" fill="#0000f5" stroke="#0000b0" stroke-width="0.6"/>
<circle cx="182.1" cy="422.1" r="3.55" fill="#0000f5" stroke="#0000b0" stroke-width="0.6"/>
<circle cx="185.3" cy="420.2" r="3.55" fill="#0000f5" stroke="#0000b0" stroke-width="0.6"/>
<circle cx="222.6" cy="423.8" r="3.55" fill="#0000f5" stroke="#0000b0" stroke-width="0.6"/>
<circle cx="161.5" cy="430.7" r="3.55" fill="#0000f5" stroke="#0000b0" stroke-width="0.6"/>
<circle cx="176" cy="430.7" r="3.55" fill="#0000f5" stroke="#0000b0" stroke-width="0.6"/>
<circle cx="173.1" cy="434.4" r="3.55" fill="#0000f5" stroke="#0000b0" stroke-width="0.6"/>
<circle cx="180.6" cy="432.3" r="3.55" fill="#0000f5" stroke="#0000b0" stroke-width="0.6"/>
<circle cx="186.8" cy="432.7" r="3.55" fill="#0000f5" stroke="#0000b0" stroke-width="0.6"/>
<circle cx="183.1" cy="437.3" r="3.55" fill="#0000f5" stroke="#0000b0" stroke-width="0.6"/>
<circle cx="189.7" cy="438.1" r="3.55" fill="#0000f5" stroke="#0000b0" stroke-width="0.6"/>
<circle cx="195.1" cy="436.5" r="3.55" fill="#0000f5" stroke="#0000b0" stroke-width="0.6"/>
<circle cx="204.4" cy="437" r="3.55" fill="#0000f5" stroke="#0000b0" stroke-width="0.6"/>
<circle cx="182.7" cy="439.8" r="3.55" fill="#0000f5" stroke="#0000b0" stroke-width="0.6"/>
<circle cx="165.7" cy="439" r="3.55" fill="#0000f5" stroke="#0000b0" stroke-width="0.6"/>
<circle cx="152.8" cy="440.2" r="3.55" fill="#0000f5" stroke="#0000b0" stroke-width="0.6"/>
<circle cx="137.1" cy="430.7" r="3.55" fill="#0000f5" stroke="#0000b0" stroke-width="0.6"/>
<circle cx="137.5" cy="441" r="3.55" fill="#0000f5" stroke="#0000b0" stroke-width="0.6"/>
<circle cx="132.3" cy="444.4" r="3.55" fill="#0000f5" stroke="#0000b0" stroke-width="0.6"/>
<circle cx="172.7" cy="445.2" r="3.55" fill="#0000f5" stroke="#0000b0" stroke-width="0.6"/>
<circle cx="173.3" cy="459.6" r="3.55" fill="#0000f5" stroke="#0000b0" stroke-width="0.6"/>
<circle cx="147.7" cy="478.8" r="3.55" fill="#0000f5" stroke="#0000b0" stroke-width="0.6"/>
<circle cx="181.5" cy="434.9" r="3.55" fill="#0000f5" stroke="#0000b0" stroke-width="0.6"/>
<circle cx="186.6" cy="432.3" r="3.55" fill="#0000f5" stroke="#0000b0" stroke-width="0.6"/>
<circle cx="144.6" cy="370.4" r="3.55" fill="#ff0000" stroke="#c00000" stroke-width="0.6"/>
<circle cx="131.5" cy="378.6" r="3.55" fill="#ff0000" stroke="#c00000" stroke-width="0.6"/>
<circle cx="126.2" cy="387.1" r="3.55" fill="#ff0000" stroke="#c00000" stroke-width="0.6"/>
<circle cx="133.9" cy="389.1" r="3.55" fill="#ff0000" stroke="#c00000" stroke-width="0.6"/>
<circle cx="141.4" cy="385.4" r="3.55" fill="#ff0000" stroke="#c00000" stroke-width="0.6"/>
<circle cx="151.3" cy="394.5" r="3.55" fill="#ff0000" stroke="#c00000" stroke-width="0.6"/>
<circle cx="138.3" cy="404.5" r="3.55" fill="#ff0000" stroke="#c00000" stroke-width="0.6"/>
<circle cx="157" cy="404.1" r="3.55" fill="#ff0000" stroke="#c00000" stroke-width="0.6"/>
<circle cx="154.5" cy="409.5" r="3.55" fill="#ff0000" stroke="#c00000" stroke-width="0.6"/>
<circle cx="139.1" cy="410.3" r="3.55" fill="#ff0000" stroke="#c00000" stroke-width="0.6"/>
<circle cx="142.9" cy="412.8" r="3.55" fill="#ff0000" stroke="#c00000" stroke-width="0.6"/>
<circle cx="140.4" cy="414.9" r="3.55" fill="#ff0000" stroke="#c00000" stroke-width="0.6"/>
<circle cx="167.3" cy="412.8" r="3.55" fill="#ff0000" stroke="#c00000" stroke-width="0.6"/>
<circle cx="174.8" cy="417" r="3.55" fill="#ff0000" stroke="#c00000" stroke-width="0.6"/>
<circle cx="187.4" cy="410.3" r="3.55" fill="#ff0000" stroke="#c00000" stroke-width="0.6"/>
<circle cx="89.8" cy="417.5" r="3.55" fill="#ff0000" stroke="#c00000" stroke-width="0.6"/>
<circle cx="126.6" cy="424.3" r="3.55" fill="#ff0000" stroke="#c00000" stroke-width="0.6"/>
<circle cx="139" cy="423.4" r="3.55" fill="#ff0000" stroke="#c00000" stroke-width="0.6"/>
<circle cx="112.2" cy="427.3" r="3.55" fill="#ff0000" stroke="#c00000" stroke-width="0.6"/>
<circle cx="131.6" cy="430.7" r="3.55" fill="#ff0000" stroke="#c00000" stroke-width="0.6"/>
<circle cx="138.7" cy="423.2" r="3.55" fill="#ff0000" stroke="#c00000" stroke-width="0.6"/>
<circle cx="162" cy="424.4" r="3.55" fill="#ff0000" stroke="#c00000" stroke-width="0.6"/>
<circle cx="153.4" cy="427.3" r="3.55" fill="#ff0000" stroke="#c00000" stroke-width="0.6"/>
<circle cx="169.8" cy="428.6" r="3.55" fill="#ff0000" stroke="#c00000" stroke-width="0.6"/>
<circle cx="167.8" cy="430.7" r="3.55" fill="#ff0000" stroke="#c00000" stroke-width="0.6"/>
<circle cx="160.7" cy="436.9" r="3.55" fill="#ff0000" stroke="#c00000" stroke-width="0.6"/>
<circle cx="80.3" cy="445.4" r="3.55" fill="#ff0000" stroke="#c00000" stroke-width="0.6"/>
<circle cx="120.3" cy="451.5" r="3.55" fill="#ff0000" stroke="#c00000" stroke-width="0.6"/>
<circle cx="187.2" cy="446.4" r="3.55" fill="#ff0000" stroke="#c00000" stroke-width="0.6"/>
<circle cx="151.2" cy="446.8" r="3.55" fill="#ff0000" stroke="#c00000" stroke-width="0.6"/>
<circle cx="157" cy="443.9" r="3.55" fill="#ff0000" stroke="#c00000" stroke-width="0.6"/>
<circle cx="159" cy="446.8" r="3.55" fill="#ff0000" stroke="#c00000" stroke-width="0.6"/>
<circle cx="157" cy="449.7" r="3.55" fill="#ff0000" stroke="#c00000" stroke-width="0.6"/>
<circle cx="161.5" cy="448.9" r="3.55" fill="#ff0000" stroke="#c00000" stroke-width="0.6"/>
<circle cx="164" cy="452.2" r="3.55" fill="#ff0000" stroke="#c00000" stroke-width="0.6"/>
<circle cx="149.6" cy="460.4" r="3.55" fill="#ff0000" stroke="#c00000" stroke-width="0.6"/>
<circle cx="149.1" cy="473.9" r="3.55" fill="#ff0000" stroke="#c00000" stroke-width="0.6"/>
<circle cx="121.7" cy="481.1" r="3.55" fill="#ff0000" stroke="#c00000" stroke-width="0.6"/>
<rect x="300" y="332.7" width="202" height="157.3" fill="none" stroke="#000" stroke-width="1.6"/>
<line x1="300" y1="411.3" x2="502" y2="411.3" stroke="#000" stroke-width="1.7"/>
<line x1="328.8" y1="332.7" x2="328.8" y2="490" stroke="#000" stroke-width="1.7"/>
<line x1="298.4" y1="480.32" x2="300" y2="480.32" stroke="#000" stroke-width="1.0"/>
<line x1="297.2" y1="470.46" x2="300" y2="470.46" stroke="#000" stroke-width="1.1"/>
<line x1="298.4" y1="460.6" x2="300" y2="460.6" stroke="#000" stroke-width="1.0"/>
<line x1="297.2" y1="450.74" x2="300" y2="450.74" stroke="#000" stroke-width="1.1"/>
<line x1="298.4" y1="440.88" x2="300" y2="440.88" stroke="#000" stroke-width="1.0"/>
<line x1="297.2" y1="431.02" x2="300" y2="431.02" stroke="#000" stroke-width="1.1"/>
<line x1="298.4" y1="421.16" x2="300" y2="421.16" stroke="#000" stroke-width="1.0"/>
<line x1="297.2" y1="411.3" x2="300" y2="411.3" stroke="#000" stroke-width="1.1"/>
<line x1="298.4" y1="401.44" x2="300" y2="401.44" stroke="#000" stroke-width="1.0"/>
<line x1="297.2" y1="391.58" x2="300" y2="391.58" stroke="#000" stroke-width="1.1"/>
<line x1="298.4" y1="381.72" x2="300" y2="381.72" stroke="#000" stroke-width="1.0"/>
<line x1="297.2" y1="371.86" x2="300" y2="371.86" stroke="#000" stroke-width="1.1"/>
<line x1="298.4" y1="362" x2="300" y2="362" stroke="#000" stroke-width="1.0"/>
<line x1="297.2" y1="352.14" x2="300" y2="352.14" stroke="#000" stroke-width="1.1"/>
<line x1="298.4" y1="342.28" x2="300" y2="342.28" stroke="#000" stroke-width="1.0"/>
<line x1="314.38" y1="490" x2="314.38" y2="491.5" stroke="#000" stroke-width="1.1"/>
<line x1="328.8" y1="490" x2="328.8" y2="492.5" stroke="#000" stroke-width="1.1"/>
<line x1="343.22" y1="490" x2="343.22" y2="491.5" stroke="#000" stroke-width="1.1"/>
<line x1="357.64" y1="490" x2="357.64" y2="492.5" stroke="#000" stroke-width="1.1"/>
<line x1="372.06" y1="490" x2="372.06" y2="491.5" stroke="#000" stroke-width="1.1"/>
<line x1="386.48" y1="490" x2="386.48" y2="492.5" stroke="#000" stroke-width="1.1"/>
<line x1="400.9" y1="490" x2="400.9" y2="491.5" stroke="#000" stroke-width="1.1"/>
<line x1="415.32" y1="490" x2="415.32" y2="492.5" stroke="#000" stroke-width="1.1"/>
<line x1="429.74" y1="490" x2="429.74" y2="491.5" stroke="#000" stroke-width="1.1"/>
<line x1="444.16" y1="490" x2="444.16" y2="492.5" stroke="#000" stroke-width="1.1"/>
<line x1="458.58" y1="490" x2="458.58" y2="491.5" stroke="#000" stroke-width="1.1"/>
<line x1="473" y1="490" x2="473" y2="492.5" stroke="#000" stroke-width="1.1"/>
<line x1="487.42" y1="490" x2="487.42" y2="491.5" stroke="#000" stroke-width="1.1"/>
<path d="M300,333.1 L297.8,339.5 L302.2,339.5 Z" fill="#000" stroke="#000" stroke-width="1.2" stroke-linejoin="miter"/>
<path d="M500.5,490 L494.5,488.2 L494.5,491.8 Z" fill="#000" stroke="#000" stroke-width="1.2"/>
<g font-family='"Liberation Serif", serif'>
<text x="284.2" y="355.2" font-size="10.5" font-weight="bold" text-anchor="middle" fill="#111" letter-spacing="0.9" >0.3</text>
<text x="284.2" y="375" font-size="10.5" font-weight="bold" text-anchor="middle" fill="#111" letter-spacing="0.9" >0.2</text>
<text x="284.2" y="394.9" font-size="10.5" font-weight="bold" text-anchor="middle" fill="#111" letter-spacing="0.9" >0.1</text>
<text x="284.2" y="413.4" font-size="10.5" font-weight="bold" text-anchor="middle" fill="#111" letter-spacing="0.9" >0</text>
<text x="282.2" y="434.4" font-size="10.5" font-weight="bold" text-anchor="middle" fill="#111" letter-spacing="0.9" >-0.1</text>
<text x="282.2" y="454.1" font-size="10.5" font-weight="bold" text-anchor="middle" fill="#111" letter-spacing="0.9" >-0.2</text>
<text x="282.2" y="473.8" font-size="10.5" font-weight="bold" text-anchor="middle" fill="#111" letter-spacing="0.9" >-0.3</text>
<text x="282.2" y="493.4" font-size="10.5" font-weight="bold" text-anchor="middle" fill="#111" letter-spacing="0.9" >-0.4</text>
<text x="304.6" y="506.2" font-size="10.5" font-weight="bold" text-anchor="middle" fill="#111" letter-spacing="0.9" >-0.2</text>
<text x="329.3" y="506.2" font-size="10.5" font-weight="bold" text-anchor="middle" fill="#111" letter-spacing="0.9" >0</text>
<text x="361.4" y="506.2" font-size="10.5" font-weight="bold" text-anchor="middle" fill="#111" letter-spacing="0.9" >0.2</text>
<text x="390.3" y="506.2" font-size="10.5" font-weight="bold" text-anchor="middle" fill="#111" letter-spacing="0.9" >0.4</text>
<text x="419" y="506.2" font-size="10.5" font-weight="bold" text-anchor="middle" fill="#111" letter-spacing="0.9" >0.6</text>
<text x="447.4" y="506.2" font-size="10.5" font-weight="bold" text-anchor="middle" fill="#111" letter-spacing="0.9" >0.8</text>
<text x="473.6" y="506.2" font-size="10.5" font-weight="bold" text-anchor="middle" fill="#111" letter-spacing="0.9" >1</text>
<text x="474.4" y="467" font-size="12" font-weight="normal" text-anchor="start" fill="#111" letter-spacing="0.2" >R2</text>
<text x="474.4" y="476.3" font-size="12" font-weight="normal" text-anchor="start" fill="#111" letter-spacing="0.2" >Q2</text>
</g>
<circle cx="467.6" cy="462.3" r="3.6" fill="#3db53d" stroke="#2a8a2a" stroke-width="0.6"/>
<rect x="464.7" y="469.5" width="5.8" height="5.8" fill="#3a50c4"/>
<line x1="328.8" y1="385.2" x2="472.7" y2="346" stroke="#000" stroke-width="1.2"/>
<line x1="328.8" y1="442.3" x2="472.7" y2="389.7" stroke="#000" stroke-width="1.2"/>
<rect x="352.75" y="396.55" width="4.5" height="4.5" fill="#3a50c4"/>
<rect x="335.35" y="416.85" width="4.5" height="4.5" fill="#3a50c4"/>
<rect x="328.45" y="427.15" width="4.5" height="4.5" fill="#3a50c4"/>
<rect x="331.15" y="429.25" width="4.5" height="4.5" fill="#3a50c4"/>
<rect x="335.35" y="424.75" width="4.5" height="4.5" fill="#3a50c4"/>
<rect x="342.35" y="425.05" width="4.5" height="4.5" fill="#3a50c4"/>
<rect x="345.55" y="428.25" width="4.5" height="4.5" fill="#3a50c4"/>
<rect x="349.15" y="421.15" width="4.5" height="4.5" fill="#3a50c4"/>
<rect x="356.35" y="418.85" width="4.5" height="4.5" fill="#3a50c4"/>
<rect x="359.45" y="424.45" width="4.5" height="4.5" fill="#3a50c4"/>
<rect x="328.45" y="435.15" width="4.5" height="4.5" fill="#3a50c4"/>
<rect x="335.35" y="435.95" width="4.5" height="4.5" fill="#3a50c4"/>
<rect x="338.85" y="435.15" width="4.5" height="4.5" fill="#3a50c4"/>
<rect x="342.75" y="432.75" width="4.5" height="4.5" fill="#3a50c4"/>
<rect x="331.15" y="449.75" width="4.5" height="4.5" fill="#3a50c4"/>
<rect x="338.55" y="456.05" width="4.5" height="4.5" fill="#3a50c4"/>
<rect x="345.15" y="460.05" width="4.5" height="4.5" fill="#3a50c4"/>
<rect x="345.15" y="461.65" width="4.5" height="4.5" fill="#3a50c4"/>
<rect x="331.15" y="485.15" width="4.5" height="4.5" fill="#3a50c4"/>
<rect x="470.45" y="387.45" width="4.5" height="4.5" fill="#3a50c4"/>
<circle cx="354.6" cy="361.1" r="2.7" fill="#3db53d" stroke="#2a8a2a" stroke-width="0.6"/>
<circle cx="330.2" cy="370.3" r="2.7" fill="#3db53d" stroke="#2a8a2a" stroke-width="0.6"/>
<circle cx="333.3" cy="376.7" r="2.7" fill="#3db53d" stroke="#2a8a2a" stroke-width="0.6"/>
<circle cx="344.2" cy="370.3" r="2.7" fill="#3db53d" stroke="#2a8a2a" stroke-width="0.6"/>
<circle cx="347.4" cy="372.8" r="2.7" fill="#3db53d" stroke="#2a8a2a" stroke-width="0.6"/>
<circle cx="344.2" cy="376" r="2.7" fill="#3db53d" stroke="#2a8a2a" stroke-width="0.6"/>
<circle cx="351.2" cy="377.9" r="2.7" fill="#3db53d" stroke="#2a8a2a" stroke-width="0.6"/>
<circle cx="347.4" cy="380.1" r="2.7" fill="#3db53d" stroke="#2a8a2a" stroke-width="0.6"/>
<circle cx="357.8" cy="379.1" r="2.7" fill="#3db53d" stroke="#2a8a2a" stroke-width="0.6"/>
<circle cx="361.2" cy="379.1" r="2.7" fill="#3db53d" stroke="#2a8a2a" stroke-width="0.6"/>
<circle cx="334" cy="381.1" r="2.7" fill="#3db53d" stroke="#2a8a2a" stroke-width="0.6"/>
<circle cx="337.8" cy="381.1" r="2.7" fill="#3db53d" stroke="#2a8a2a" stroke-width="0.6"/>
<circle cx="340.4" cy="384.3" r="2.7" fill="#3db53d" stroke="#2a8a2a" stroke-width="0.6"/>
<circle cx="335.3" cy="385" r="2.7" fill="#3db53d" stroke="#2a8a2a" stroke-width="0.6"/>
<circle cx="329.5" cy="388.8" r="2.7" fill="#3db53d" stroke="#2a8a2a" stroke-width="0.6"/>
<circle cx="337.2" cy="388.1" r="2.7" fill="#3db53d" stroke="#2a8a2a" stroke-width="0.6"/>
<circle cx="340.4" cy="390.7" r="2.7" fill="#3db53d" stroke="#2a8a2a" stroke-width="0.6"/>
<circle cx="337.2" cy="393.2" r="2.7" fill="#3db53d" stroke="#2a8a2a" stroke-width="0.6"/>
<circle cx="347.3" cy="394.3" r="2.7" fill="#3db53d" stroke="#2a8a2a" stroke-width="0.6"/>
<circle cx="472.7" cy="346" r="2.7" fill="#3db53d" stroke="#2a8a2a" stroke-width="0.6"/>
<line x1="560" y1="330.9" x2="560" y2="493.9" stroke="#000" stroke-width="1.5"/>
<line x1="559.3" y1="493.2" x2="761" y2="493.2" stroke="#000" stroke-width="1.5"/>
<g font-family='"Liberation Serif", serif'>
<text x="550.3" y="337.9" font-size="10.5" font-weight="bold" text-anchor="middle" fill="#111" >6</text>
<text x="550.3" y="365" font-size="10.5" font-weight="bold" text-anchor="middle" fill="#111" >5</text>
<text x="550.3" y="392" font-size="10.5" font-weight="bold" text-anchor="middle" fill="#111" >4</text>
<text x="550.3" y="419" font-size="10.5" font-weight="bold" text-anchor="middle" fill="#111" >3</text>
<text x="550.3" y="445.2" font-size="10.5" font-weight="bold" text-anchor="middle" fill="#111" >2</text>
<text x="550.3" y="472.2" font-size="10.5" font-weight="bold" text-anchor="middle" fill="#111" >1</text>
<text x="550.3" y="498.2" font-size="10.5" font-weight="bold" text-anchor="middle" fill="#111" >0</text>
<text x="559.3" y="507.1" font-size="10.5" font-weight="bold" text-anchor="middle" fill="#111" >0</text>
<text x="582.7" y="507.1" font-size="10.5" font-weight="bold" text-anchor="middle" fill="#111" >1</text>
<text x="608.5" y="507.1" font-size="10.5" font-weight="bold" text-anchor="middle" fill="#111" >2</text>
<text x="631.3" y="507.1" font-size="10.5" font-weight="bold" text-anchor="middle" fill="#111" >3</text>
<text x="656.8" y="507.1" font-size="10.5" font-weight="bold" text-anchor="middle" fill="#111" >4</text>
<text x="680.2" y="507.1" font-size="10.5" font-weight="bold" text-anchor="middle" fill="#111" >5</text>
<text x="702.6" y="507.1" font-size="10.5" font-weight="bold" text-anchor="middle" fill="#111" >6</text>
<text x="726.3" y="507.1" font-size="10.5" font-weight="bold" text-anchor="middle" fill="#111" >7</text>
<text x="749.3" y="507.1" font-size="10.5" font-weight="bold" text-anchor="middle" fill="#111" >8</text>
<text x="658.1" y="526.3" font-size="12" font-weight="bold" text-anchor="middle" fill="#111" letter-spacing="0" >PPM</text>
<text transform="translate(540.0,405.6) rotate(-90)" font-size="11" font-weight="bold" text-anchor="middle" fill="#111" letter-spacing="0.6">VIP</text>
<text x="584.3" y="347.2" font-size="9.6" font-weight="bold" text-anchor="start" fill="#111" letter-spacing="1.1" >Lac</text>
<text x="633.1" y="367.3" font-size="9.6" font-weight="bold" text-anchor="start" fill="#111" letter-spacing="1.1" >Cho</text>
<text x="606.7" y="375.4" font-size="9.6" font-weight="bold" text-anchor="start" fill="#111" letter-spacing="1.1" >Aca</text>
<text x="598.8" y="386.4" font-size="9.6" font-weight="bold" text-anchor="start" fill="#111" letter-spacing="1.1" >Acn</text>
<text x="563.5" y="388.2" font-size="9.6" font-weight="bold" text-anchor="start" fill="#111" letter-spacing="1.1" >3-HB</text>
<text x="571.5" y="406.1" font-size="9.6" font-weight="bold" text-anchor="start" fill="#111" letter-spacing="1.1" >Leu</text>
</g>
<line x1="584.6" y1="391.4" x2="590" y2="398.6" stroke="#000" stroke-width="0.9"/>
<line x1="608.4" y1="390.5" x2="615.5" y2="398.6" stroke="#000" stroke-width="0.9"/>
<path d="M573,492.5 L575,492.49 L575.3,491.9 L575.5,491.86 L576,492.66 L576.5,491.15 L577,492.04 L577.5,490.52 L578,491.2 L578.3,489.6 L578.5,487 L579,488.82 L579.5,470 L579.5,473.62 L580,467.71 L580.5,434.81 L581,444.43 L581.1,407.7 L581.5,426.14 L582,475.82 L582.2,423 L582.5,451.55 L582.9,488.8 L583,492.12 L583.5,454.83 L583.7,431.4 L584,477.18 L584.5,440.74 L585,460.52 L585.2,435.2 L585.5,443.11 L586,480.51 L586.5,469.12 L586.8,476.6 L587,485.21 L587.5,484.18 L588,490.3 L588.3,491.9 L588.5,481.25 L589,450.5 L589,476.49 L589.5,437.05 L590,461.72 L590.2,391.1 L590.5,418.66 L590.9,430 L591,467.71 L591.5,392.28 L591.8,350.4 L592,447.73 L592.5,432.36 L592.6,440 L593,489.08 L593.5,415.27 L593.6,391.1 L594,480.78 L594.2,420 L594.5,452.2 L595,488 L595,490.59 L595.5,490.55 L595.8,491.9 L596,486.53 L596.5,449.64 L597,418.4 L597,478.65 L597.5,446.67 L598,489.12 L598.2,476.6 L598.5,475.71 L599,470.4 L599,491.12 L599.5,480.15 L600,487.56 L600.5,491.9 L600.5,491.94 L601,492.36 L601.5,485.96 L602,492.13 L602.5,479.72 L602.8,476.6 L603,484.14 L603.5,484.49 L604,491.94 L604.4,491.9 L604.5,491.27 L605,489.69 L605.5,484.6 L606,491.92 L606.5,479.27 L607,481.49 L607.4,470.4 L607.5,470.78 L608,476.9 L608.5,462.38 L609,458.2 L609,486.86 L609.5,450.43 L610,476.06 L610.5,435.82 L611,454.29 L611.3,415.3 L611.5,428.39 L612,452.59 L612.5,435.94 L612.8,430.6 L613,461.46 L613.5,462.03 L614,485.93 L614.3,491.9 L614.5,480.61 L615,489.91 L615.5,420 L615.5,431.7 L616,451.42 L616.2,398 L616.5,406.92 L616.8,378.9 L617,442.31 L617.5,440 L617.5,444.16 L618,487.99 L618.1,461.3 L618.5,460.99 L619,467.59 L619.5,453.5 L619.7,441.3 L620,466.08 L620.5,444.77 L621,483.46 L621.2,442.9 L621.5,448.18 L622,471.93 L622.5,452.77 L622.7,453.6 L623,463.98 L623.5,436.58 L623.8,420 L624,449.15 L624.5,371.8 L624.5,386.35 L625,468.04 L625.2,460 L625.5,470.52 L625.8,476.6 L626,491.16 L626.5,459.86 L627,477.25 L627.5,438.71 L628,449.63 L628.1,410 L628.5,430.54 L629,488.49 L629.5,477.88 L629.6,479.6 L630,486.99 L630.5,483.54 L631,491.22 L631.5,488.2 L632,490.84 L632.5,491.43 L632.7,491.9 L633,492.62 L633.5,490.62 L634,491.43 L634.5,488.45 L635,489.4 L635.5,487.62 L635.8,485.8 L636,486.35 L636.5,469.59 L637,472.31 L637.3,442.9 L637.5,440.73 L638,465.5 L638.3,380.7 L638.5,383.44 L638.8,370.5 L639,432.92 L639.5,425.19 L639.6,420 L640,442.4 L640.4,400 L640.5,403.76 L641,462.68 L641.4,395 L641.5,417.89 L642,440 L642,477.94 L642.5,453.66 L642.6,453.6 L643,488.93 L643.5,456.01 L644,468.55 L644.2,455.1 L644.5,452.69 L645,473.59 L645.5,435.45 L646,456.95 L646.5,419.1 L646.5,424.54 L647,475.13 L647.5,452.39 L648,467.4 L648,481.81 L648.5,476.97 L649,491.99 L649.5,485.8 L649.5,486.72 L650,487.43 L650.5,458.69 L651,462 L651.1,435.2 L651.5,443.71 L652,467.72 L652.5,469.05 L652.6,465.8 L653,488.01 L653.5,482.14 L654,489.27 L654.1,488.8 L654.5,484.29 L655,486.69 L655.5,472.2 L655.7,465.8 L656,482.81 L656.5,482.33 L657,490.15 L657.2,491.9 L657.5,488.26 L658,490.29 L658.5,477.14 L659,487.38 L659.5,459.7 L659.5,464.36 L660,488.02 L660.5,474.96 L661,476.6 L661,485.69 L661.5,473.79 L662,489.75 L662.5,464.99 L663,477.01 L663.3,449.8 L663.5,458.61 L664,488.23 L664.5,467.41 L664.9,468.9 L665,486.64 L665.5,479.04 L666,490.58 L666.2,488.4 L666.5,483.43 L667,480.09 L667.1,469.6 L667.5,478.54 L668,485 L668,492.38 L668.5,487.37 L669,491.65 L669.5,488.94 L670,492.18 L671.4,493.2 L675.6,478.5 L689,489.41 L689.3,489.2 L689.5,490.65 L690,484.07 L690.5,483.55 L691,475.51 L691.5,476.83 L691.9,463.6 L692,468.33 L692.5,485.26 L692.7,474.7 L693,478.24 L693.5,490.36 L693.6,483.2 L694,486.15 L694.5,491.5 L695,491.28 L695.3,492.6 L695.5,492.16 L696,488.82 L696.5,489.66 L697,484.68 L697.5,480.7 L697.5,486.41 L698,482.67 L698.5,491.86 L699,486.51 L699.5,490.64 L699.6,487.5 L700,487.96 L700.5,489.79 L701,486.42 L701.3,485 L701.5,488.87 L702,486.95 L702.5,491.9 L703,488.4 L703,489.2 L703.5,491.98 L704,484.48 L704.5,489.4 L705,480.03 L705.5,483.74 L705.6,476.4 L706,479.76 L706.5,491.02 L707,484.76 L707.5,491.17 L708,488.85 L708.1,488.4 L708.5,491.06 L709,490.29 L709.5,492.19 L709.8,491.8 L710,491.71 L710.5,491.99 L711,491.01 L711.5,492.16 L712,490.33 L712.5,491.36 L713,489.86 L713.5,492.56 L714,488.87 L714.1,488.4 L714.5,490.53 L715,489.87 L715.5,492.53 L716,491.48 L716.5,492.68 L716.7,492.6 L717,492.43 L717.5,492.44 L718,491.85 L718.5,491.85 L719,491.01 L719.5,491.97 L720,490.26 L720.5,492.36 L721,489.69 L721.5,490.75 L722,488.86 L722.5,491.62 L722.6,488.4 L723,489.38 L723.5,492 L724,490.94 L724.5,492.58 L725,492.38 L725.2,492.6 L725.5,492.68 L726,491.85 L726.5,492.26 L727,490.9 L727.5,491.22 L728,490.13 L728.5,492.04 L729,489 L729.5,490.65 L730,488.22 L730.5,491.55 L731,487.51 L731.2,486.7 L731.5,490.75 L732,484.97 L732.5,488.17 L733,481.74 L733.4,478.1 L733.5,491.33 L734,483.42 L734.5,492.32 L734.6,488.4 L735,489.26 L735.5,490.62 L736,489.63 L736.5,491.93 L737,490.48 L737.2,490.1 L737.5,491.24 L738,488.09 L738.5,491.95 L739,485.59 L739.5,491.95 L740,482.06 L740.5,489.31 L740.6,479 L741,481.3 L741.5,490.69 L742,486.56 L742.3,486.7 L742.5,490.67 L743,481.72 L743.5,483.5 L744,474.19 L744.4,466.2 L744.5,491.24 L745,477.96 L745.4,479.8 L745.5,488.2 L746,476.67 L746.5,481.68 L746.9,464.4 L747,470.47 L747.5,489.82 L748,477.64 L748.3,479.8 L748.5,485.6 L749,484.18 L749.5,490.58 L750,488.4 L750,489.08 L750.5,491.46 L751,489.73 L751.5,492.4 L752,491.04 L752.5,492.61 L752.6,491.8 L753,490.09 L753.5,490.52 L754,486.62 L754.3,484.1 L754.5,488.1 L755,485.72 L755.5,490.66 L756,487.5 L756,488.27 L756.5,492.42 L756.8,491.8" fill="none" stroke="#000" stroke-width="1.0" stroke-linejoin="round" />
<line x1="560" y1="414.9" x2="695" y2="414.9" stroke="#e0202a" stroke-width="1.5"/>
<rect x="50.6" y="551.6" width="194.6" height="168" fill="none" stroke="#000" stroke-width="1.6"/>
<line x1="50.6" y1="635.7" x2="245.2" y2="635.7" stroke="#000" stroke-width="1.7"/>
<line x1="156.7" y1="551.6" x2="156.7" y2="719.6" stroke="#000" stroke-width="1.7"/>
<line x1="47.6" y1="715.5" x2="50.6" y2="715.5" stroke="#000" stroke-width="1.1"/>
<line x1="48.8" y1="702.2" x2="50.6" y2="702.2" stroke="#000" stroke-width="1.1"/>
<line x1="47.6" y1="688.9" x2="50.6" y2="688.9" stroke="#000" stroke-width="1.1"/>
<line x1="48.8" y1="675.6" x2="50.6" y2="675.6" stroke="#000" stroke-width="1.1"/>
<line x1="47.6" y1="662.3" x2="50.6" y2="662.3" stroke="#000" stroke-width="1.1"/>
<line x1="48.8" y1="649" x2="50.6" y2="649" stroke="#000" stroke-width="1.1"/>
<line x1="47.6" y1="635.7" x2="50.6" y2="635.7" stroke="#000" stroke-width="1.1"/>
<line x1="48.8" y1="622.4" x2="50.6" y2="622.4" stroke="#000" stroke-width="1.1"/>
<line x1="47.6" y1="609.1" x2="50.6" y2="609.1" stroke="#000" stroke-width="1.1"/>
<line x1="48.8" y1="595.8" x2="50.6" y2="595.8" stroke="#000" stroke-width="1.1"/>
<line x1="47.6" y1="582.5" x2="50.6" y2="582.5" stroke="#000" stroke-width="1.1"/>
<line x1="48.8" y1="569.2" x2="50.6" y2="569.2" stroke="#000" stroke-width="1.1"/>
<line x1="47.6" y1="555.9" x2="50.6" y2="555.9" stroke="#000" stroke-width="1.1"/>
<line x1="68.1" y1="719.6" x2="68.1" y2="721.1" stroke="#000" stroke-width="1.1"/>
<line x1="85.82" y1="719.6" x2="85.82" y2="722.1" stroke="#000" stroke-width="1.1"/>
<line x1="103.54" y1="719.6" x2="103.54" y2="721.1" stroke="#000" stroke-width="1.1"/>
<line x1="121.26" y1="719.6" x2="121.26" y2="722.1" stroke="#000" stroke-width="1.1"/>
<line x1="138.98" y1="719.6" x2="138.98" y2="721.1" stroke="#000" stroke-width="1.1"/>
<line x1="156.7" y1="719.6" x2="156.7" y2="722.1" stroke="#000" stroke-width="1.1"/>
<line x1="174.42" y1="719.6" x2="174.42" y2="721.1" stroke="#000" stroke-width="1.1"/>
<line x1="192.14" y1="719.6" x2="192.14" y2="722.1" stroke="#000" stroke-width="1.1"/>
<line x1="209.86" y1="719.6" x2="209.86" y2="721.1" stroke="#000" stroke-width="1.1"/>
<line x1="227.58" y1="719.6" x2="227.58" y2="722.1" stroke="#000" stroke-width="1.1"/>
<path d="M50.6,552 L48.4,558.4 L52.8,558.4 Z" fill="#fff" stroke="#000" stroke-width="1.2" stroke-linejoin="miter"/>
<path d="M243.7,719.6 L237.7,717.8 L237.7,721.4 Z" fill="#fff" stroke="#000" stroke-width="1.2"/>
<g font-family='"Liberation Serif", serif'>
<text x="5.9" y="564.8" font-size="23.5" font-weight="normal" text-anchor="start" fill="#000" >C</text>
<text x="31.6" y="585.3" font-size="10.5" font-weight="bold" text-anchor="middle" fill="#111" letter-spacing="0.9" >0.5</text>
<text x="31.8" y="611.5" font-size="10.5" font-weight="bold" text-anchor="middle" fill="#111" letter-spacing="0.9" >0.25</text>
<text x="31.6" y="637.3" font-size="10.5" font-weight="bold" text-anchor="middle" fill="#111" letter-spacing="0.9" >0</text>
<text x="30.5" y="664" font-size="10.5" font-weight="bold" text-anchor="middle" fill="#111" letter-spacing="0.9" >-0.25</text>
<text x="30.6" y="690.5" font-size="10.5" font-weight="bold" text-anchor="middle" fill="#111" letter-spacing="0.9" >-0.5</text>
<text x="30.5" y="717.2" font-size="10.5" font-weight="bold" text-anchor="middle" fill="#111" letter-spacing="0.9" >-0.75</text>
<text x="56.1" y="734.3" font-size="10.5" font-weight="bold" text-anchor="middle" fill="#111" letter-spacing="0.9" >-0.6</text>
<text x="91.3" y="734.3" font-size="10.5" font-weight="bold" text-anchor="middle" fill="#111" letter-spacing="0.9" >-0.4</text>
<text x="126.4" y="734.3" font-size="10.5" font-weight="bold" text-anchor="middle" fill="#111" letter-spacing="0.9" >-0.2</text>
<text x="157.3" y="734.3" font-size="10.5" font-weight="bold" text-anchor="middle" fill="#111" letter-spacing="0.9" >0</text>
<text x="195.9" y="734.3" font-size="10.5" font-weight="bold" text-anchor="middle" fill="#111" letter-spacing="0.9" >0.2</text>
<text x="231.9" y="734.3" font-size="10.5" font-weight="bold" text-anchor="middle" fill="#111" letter-spacing="0.9" >0.4</text>
<text x="161.8" y="749.2" font-size="11.2" font-weight="bold" text-anchor="middle" fill="#111" letter-spacing="0.6" >1.1096 * t[1]</text>
<text transform="translate(8.6,634.8) rotate(-90)" font-size="10.8" font-weight="bold" text-anchor="middle" fill="#111" letter-spacing="0.75">1.2869*t0[1]</text>
<text x="70.8" y="574.2" font-size="11.8" font-weight="bold" text-anchor="start" fill="#111" letter-spacing="0.2" >R<tspan font-size="5.5" dy="-4.8">2</tspan><tspan dy="4.8">X=0.236</tspan></text>
<text x="70.4" y="587.1" font-size="11.8" font-weight="bold" text-anchor="start" fill="#111" letter-spacing="0.2" >Q<tspan font-size="5.5" dy="-4.8">2</tspan><tspan dy="4.8">=0.288</tspan></text>
<text x="185.4" y="573.7" font-size="12" font-weight="bold" text-anchor="start" fill="#111" letter-spacing="0.5" >Before</text>
<text x="185.4" y="583.8" font-size="12" font-weight="bold" text-anchor="start" fill="#111" letter-spacing="0.5" >After</text>
</g>
<rect x="173.1" y="566.4" width="7.4" height="6.7" fill="#ff0000"/>
<rect x="173.1" y="576.4" width="7.4" height="6.7" fill="#0000f5"/>
<circle cx="146.1" cy="573.5" r="3.5" fill="#ff0000" stroke="#c00000" stroke-width="0.6"/>
<circle cx="144.1" cy="601.5" r="3.5" fill="#ff0000" stroke="#c00000" stroke-width="0.6"/>
<circle cx="149.4" cy="602.2" r="3.5" fill="#ff0000" stroke="#c00000" stroke-width="0.6"/>
<circle cx="152.5" cy="598.2" r="3.5" fill="#ff0000" stroke="#c00000" stroke-width="0.6"/>
<circle cx="156.1" cy="598.4" r="3.5" fill="#ff0000" stroke="#c00000" stroke-width="0.6"/>
<circle cx="155.5" cy="607.7" r="3.5" fill="#ff0000" stroke="#c00000" stroke-width="0.6"/>
<circle cx="110.6" cy="609.8" r="3.5" fill="#ff0000" stroke="#c00000" stroke-width="0.6"/>
<circle cx="126.2" cy="613.3" r="3.5" fill="#ff0000" stroke="#c00000" stroke-width="0.6"/>
<circle cx="132.7" cy="617.6" r="3.5" fill="#ff0000" stroke="#c00000" stroke-width="0.6"/>
<circle cx="130.3" cy="620.3" r="3.5" fill="#ff0000" stroke="#c00000" stroke-width="0.6"/>
<circle cx="151.5" cy="617.4" r="3.5" fill="#ff0000" stroke="#c00000" stroke-width="0.6"/>
<circle cx="155.7" cy="615.1" r="3.5" fill="#ff0000" stroke="#c00000" stroke-width="0.6"/>
<circle cx="65.7" cy="629.5" r="3.5" fill="#ff0000" stroke="#c00000" stroke-width="0.6"/>
<circle cx="120.9" cy="627.6" r="3.5" fill="#ff0000" stroke="#c00000" stroke-width="0.6"/>
<circle cx="127" cy="629" r="3.5" fill="#ff0000" stroke="#c00000" stroke-width="0.6"/>
<circle cx="148.5" cy="632.8" r="3.5" fill="#ff0000" stroke="#c00000" stroke-width="0.6"/>
<circle cx="104.6" cy="639.1" r="3.5" fill="#ff0000" stroke="#c00000" stroke-width="0.6"/>
<circle cx="132.4" cy="636.7" r="3.5" fill="#ff0000" stroke="#c00000" stroke-width="0.6"/>
<circle cx="141.4" cy="641.6" r="3.5" fill="#ff0000" stroke="#c00000" stroke-width="0.6"/>
<circle cx="122.9" cy="646.7" r="3.5" fill="#ff0000" stroke="#c00000" stroke-width="0.6"/>
<circle cx="133.3" cy="646.7" r="3.5" fill="#ff0000" stroke="#c00000" stroke-width="0.6"/>
<circle cx="134" cy="653.2" r="3.5" fill="#ff0000" stroke="#c00000" stroke-width="0.6"/>
<circle cx="141.4" cy="655.2" r="3.5" fill="#ff0000" stroke="#c00000" stroke-width="0.6"/>
<circle cx="153.1" cy="656.8" r="3.5" fill="#ff0000" stroke="#c00000" stroke-width="0.6"/>
<circle cx="104.6" cy="658.4" r="3.5" fill="#ff0000" stroke="#c00000" stroke-width="0.6"/>
<circle cx="124" cy="662.4" r="3.5" fill="#ff0000" stroke="#c00000" stroke-width="0.6"/>
<circle cx="117.3" cy="665.9" r="3.5" fill="#ff0000" stroke="#c00000" stroke-width="0.6"/>
<circle cx="144.1" cy="663.2" r="3.5" fill="#ff0000" stroke="#c00000" stroke-width="0.6"/>
<circle cx="145" cy="664.6" r="3.5" fill="#ff0000" stroke="#c00000" stroke-width="0.6"/>
<circle cx="115.7" cy="675.1" r="3.5" fill="#ff0000" stroke="#c00000" stroke-width="0.6"/>
<circle cx="115.3" cy="707.9" r="3.5" fill="#ff0000" stroke="#c00000" stroke-width="0.6"/>
<circle cx="173.1" cy="641.2" r="3.5" fill="#ff0000" stroke="#c00000" stroke-width="0.6"/>
<circle cx="161.7" cy="648.1" r="3.5" fill="#ff0000" stroke="#c00000" stroke-width="0.6"/>
<circle cx="175.1" cy="657.9" r="3.5" fill="#ff0000" stroke="#c00000" stroke-width="0.6"/>
<circle cx="149.7" cy="601.9" r="3.5" fill="#ff0000" stroke="#c00000" stroke-width="0.6"/>
<circle cx="128.4" cy="591.5" r="3.5" fill="#0000f5" stroke="#0000b0" stroke-width="0.6"/>
<circle cx="157.4" cy="603.9" r="3.5" fill="#0000f5" stroke="#0000b0" stroke-width="0.6"/>
<circle cx="149.4" cy="622.3" r="3.5" fill="#0000f5" stroke="#0000b0" stroke-width="0.6"/>
<circle cx="152.1" cy="628.6" r="3.5" fill="#0000f5" stroke="#0000b0" stroke-width="0.6"/>
<circle cx="152.1" cy="643.2" r="3.5" fill="#0000f5" stroke="#0000b0" stroke-width="0.6"/>
<circle cx="156.1" cy="643.2" r="3.5" fill="#0000f5" stroke="#0000b0" stroke-width="0.6"/>
<circle cx="168.4" cy="597.2" r="3.5" fill="#0000f5" stroke="#0000b0" stroke-width="0.6"/>
<circle cx="167.1" cy="603.2" r="3.5" fill="#0000f5" stroke="#0000b0" stroke-width="0.6"/>
<circle cx="157.7" cy="603.9" r="3.5" fill="#0000f5" stroke="#0000b0" stroke-width="0.6"/>
<circle cx="206.9" cy="596.2" r="3.5" fill="#0000f5" stroke="#0000b0" stroke-width="0.6"/>
<circle cx="175.8" cy="614.6" r="3.5" fill="#0000f5" stroke="#0000b0" stroke-width="0.6"/>
<circle cx="175.1" cy="617.9" r="3.5" fill="#0000f5" stroke="#0000b0" stroke-width="0.6"/>
<circle cx="171.1" cy="621.3" r="3.5" fill="#0000f5" stroke="#0000b0" stroke-width="0.6"/>
<circle cx="149.7" cy="622.6" r="3.5" fill="#0000f5" stroke="#0000b0" stroke-width="0.6"/>
<circle cx="173.8" cy="626.6" r="3.5" fill="#0000f5" stroke="#0000b0" stroke-width="0.6"/>
<circle cx="177.1" cy="626.6" r="3.5" fill="#0000f5" stroke="#0000b0" stroke-width="0.6"/>
<circle cx="181.8" cy="627.6" r="3.5" fill="#0000f5" stroke="#0000b0" stroke-width="0.6"/>
<circle cx="188.5" cy="625.3" r="3.5" fill="#0000f5" stroke="#0000b0" stroke-width="0.6"/>
<circle cx="191.6" cy="622.2" r="3.5" fill="#0000f5" stroke="#0000b0" stroke-width="0.6"/>
<circle cx="151.7" cy="628.4" r="3.5" fill="#0000f5" stroke="#0000b0" stroke-width="0.6"/>
<circle cx="167.1" cy="632.5" r="3.5" fill="#0000f5" stroke="#0000b0" stroke-width="0.6"/>
<circle cx="161.1" cy="639.1" r="3.5" fill="#0000f5" stroke="#0000b0" stroke-width="0.6"/>
<circle cx="176.7" cy="639.1" r="3.5" fill="#0000f5" stroke="#0000b0" stroke-width="0.6"/>
<circle cx="190.5" cy="639.4" r="3.5" fill="#0000f5" stroke="#0000b0" stroke-width="0.6"/>
<circle cx="190.5" cy="641.9" r="3.5" fill="#0000f5" stroke="#0000b0" stroke-width="0.6"/>
<circle cx="201.4" cy="642.5" r="3.5" fill="#0000f5" stroke="#0000b0" stroke-width="0.6"/>
<circle cx="226" cy="646.1" r="3.5" fill="#0000f5" stroke="#0000b0" stroke-width="0.6"/>
<circle cx="172.5" cy="646.1" r="3.5" fill="#0000f5" stroke="#0000b0" stroke-width="0.6"/>
<circle cx="173.8" cy="648.7" r="3.5" fill="#0000f5" stroke="#0000b0" stroke-width="0.6"/>
<circle cx="186.2" cy="650.8" r="3.5" fill="#0000f5" stroke="#0000b0" stroke-width="0.6"/>
<circle cx="192.9" cy="653.8" r="3.5" fill="#0000f5" stroke="#0000b0" stroke-width="0.6"/>
<circle cx="211.7" cy="651.7" r="3.5" fill="#0000f5" stroke="#0000b0" stroke-width="0.6"/>
<circle cx="166.2" cy="657.5" r="3.5" fill="#0000f5" stroke="#0000b0" stroke-width="0.6"/>
<circle cx="170.4" cy="657.5" r="3.5" fill="#0000f5" stroke="#0000b0" stroke-width="0.6"/>
<circle cx="170.7" cy="663.7" r="3.5" fill="#0000f5" stroke="#0000b0" stroke-width="0.6"/>
<circle cx="156" cy="666.8" r="3.5" fill="#0000f5" stroke="#0000b0" stroke-width="0.6"/>
<circle cx="179.8" cy="674.5" r="3.5" fill="#0000f5" stroke="#0000b0" stroke-width="0.6"/>
<circle cx="213.3" cy="675.5" r="3.5" fill="#0000f5" stroke="#0000b0" stroke-width="0.6"/>
<rect x="296.0" y="551.7" width="209.6" height="168.3" fill="none" stroke="#000" stroke-width="1.6"/>
<line x1="296" y1="643.4" x2="505.6" y2="643.4" stroke="#000" stroke-width="1.7"/>
<line x1="325.8" y1="551.7" x2="325.8" y2="720" stroke="#000" stroke-width="1.7"/>
<line x1="294.4" y1="719.9" x2="296" y2="719.9" stroke="#000" stroke-width="1.1"/>
<line x1="293.2" y1="704.6" x2="296" y2="704.6" stroke="#000" stroke-width="1.1"/>
<line x1="294.4" y1="689.3" x2="296" y2="689.3" stroke="#000" stroke-width="1.1"/>
<line x1="293.2" y1="674" x2="296" y2="674" stroke="#000" stroke-width="1.1"/>
<line x1="294.4" y1="658.7" x2="296" y2="658.7" stroke="#000" stroke-width="1.1"/>
<line x1="293.2" y1="643.4" x2="296" y2="643.4" stroke="#000" stroke-width="1.1"/>
<line x1="294.4" y1="628.1" x2="296" y2="628.1" stroke="#000" stroke-width="1.1"/>
<line x1="293.2" y1="612.8" x2="296" y2="612.8" stroke="#000" stroke-width="1.1"/>
<line x1="294.4" y1="597.5" x2="296" y2="597.5" stroke="#000" stroke-width="1.1"/>
<line x1="293.2" y1="582.2" x2="296" y2="582.2" stroke="#000" stroke-width="1.1"/>
<line x1="294.4" y1="566.9" x2="296" y2="566.9" stroke="#000" stroke-width="1.1"/>
<line x1="310.82" y1="720" x2="310.82" y2="721.5" stroke="#000" stroke-width="1.1"/>
<line x1="325.8" y1="720" x2="325.8" y2="722.5" stroke="#000" stroke-width="1.1"/>
<line x1="340.78" y1="720" x2="340.78" y2="721.5" stroke="#000" stroke-width="1.1"/>
<line x1="355.76" y1="720" x2="355.76" y2="722.5" stroke="#000" stroke-width="1.1"/>
<line x1="370.74" y1="720" x2="370.74" y2="721.5" stroke="#000" stroke-width="1.1"/>
<line x1="385.72" y1="720" x2="385.72" y2="722.5" stroke="#000" stroke-width="1.1"/>
<line x1="400.7" y1="720" x2="400.7" y2="721.5" stroke="#000" stroke-width="1.1"/>
<line x1="415.68" y1="720" x2="415.68" y2="722.5" stroke="#000" stroke-width="1.1"/>
<line x1="430.66" y1="720" x2="430.66" y2="721.5" stroke="#000" stroke-width="1.1"/>
<line x1="445.64" y1="720" x2="445.64" y2="722.5" stroke="#000" stroke-width="1.1"/>
<line x1="460.62" y1="720" x2="460.62" y2="721.5" stroke="#000" stroke-width="1.1"/>
<line x1="475.6" y1="720" x2="475.6" y2="722.5" stroke="#000" stroke-width="1.1"/>
<line x1="490.58" y1="720" x2="490.58" y2="721.5" stroke="#000" stroke-width="1.1"/>
<path d="M296,552.1 L293.8,558.5 L298.2,558.5 Z" fill="#000" stroke="#000" stroke-width="1.2" stroke-linejoin="miter"/>
<path d="M504.1,720 L498.1,718.2 L498.1,721.8 Z" fill="#000" stroke="#000" stroke-width="1.2"/>
<g font-family='"Liberation Serif", serif'>
<text x="282" y="585" font-size="10.5" font-weight="bold" text-anchor="middle" fill="#111" letter-spacing="0.9" >0.4</text>
<text x="282" y="615.6" font-size="10.5" font-weight="bold" text-anchor="middle" fill="#111" letter-spacing="0.9" >0.2</text>
<text x="282" y="646.3" font-size="10.5" font-weight="bold" text-anchor="middle" fill="#111" letter-spacing="0.9" >0</text>
<text x="280.4" y="676.4" font-size="10.5" font-weight="bold" text-anchor="middle" fill="#111" letter-spacing="0.9" >-0.2</text>
<text x="280.4" y="707" font-size="10.5" font-weight="bold" text-anchor="middle" fill="#111" letter-spacing="0.9" >-0.4</text>
<text x="300.3" y="735.6" font-size="10.5" font-weight="bold" text-anchor="middle" fill="#111" letter-spacing="0.9" >-0.2</text>
<text x="326.4" y="735.6" font-size="10.5" font-weight="bold" text-anchor="middle" fill="#111" letter-spacing="0.9" >0</text>
<text x="357.8" y="735.6" font-size="10.5" font-weight="bold" text-anchor="middle" fill="#111" letter-spacing="0.9" >0.2</text>
<text x="388.5" y="735.6" font-size="10.5" font-weight="bold" text-anchor="middle" fill="#111" letter-spacing="0.9" >0.4</text>
<text x="418.6" y="735.6" font-size="10.5" font-weight="bold" text-anchor="middle" fill="#111" letter-spacing="0.9" >0.6</text>
<text x="448.4" y="735.6" font-size="10.5" font-weight="bold" text-anchor="middle" fill="#111" letter-spacing="0.9" >0.8</text>
<text x="476" y="735.6" font-size="10.5" font-weight="bold" text-anchor="middle" fill="#111" letter-spacing="0.9" >1</text>
<text x="474.4" y="694.8" font-size="12" font-weight="normal" text-anchor="start" fill="#111" letter-spacing="0.2" >R2</text>
<text x="474.4" y="704.8" font-size="12" font-weight="normal" text-anchor="start" fill="#111" letter-spacing="0.2" >Q2</text>
</g>
<circle cx="467.8" cy="690.2" r="3.6" fill="#3db53d" stroke="#2a8a2a" stroke-width="0.6"/>
<rect x="464.9" y="697.7" width="5.8" height="5.8" fill="#3a50c4"/>
<line x1="325.8" y1="615.3" x2="475" y2="568.3" stroke="#000" stroke-width="1.2"/>
<line x1="325.8" y1="672.8" x2="475" y2="599" stroke="#000" stroke-width="1.2"/>
<circle cx="329.6" cy="601.4" r="3.0" fill="#3db53d" stroke="#2a8a2a" stroke-width="0.6"/>
<circle cx="338.4" cy="599.8" r="3.0" fill="#3db53d" stroke="#2a8a2a" stroke-width="0.6"/>
<circle cx="329.6" cy="605" r="3.0" fill="#3db53d" stroke="#2a8a2a" stroke-width="0.6"/>
<circle cx="329.6" cy="607.5" r="3.0" fill="#3db53d" stroke="#2a8a2a" stroke-width="0.6"/>
<circle cx="329.6" cy="610" r="3.0" fill="#3db53d" stroke="#2a8a2a" stroke-width="0.6"/>
<circle cx="338.4" cy="607.8" r="3.0" fill="#3db53d" stroke="#2a8a2a" stroke-width="0.6"/>
<circle cx="338.4" cy="611.8" r="3.0" fill="#3db53d" stroke="#2a8a2a" stroke-width="0.6"/>
<circle cx="347" cy="605.7" r="3.0" fill="#3db53d" stroke="#2a8a2a" stroke-width="0.6"/>
<circle cx="355.4" cy="607" r="3.0" fill="#3db53d" stroke="#2a8a2a" stroke-width="0.6"/>
<circle cx="355.4" cy="610.2" r="3.0" fill="#3db53d" stroke="#2a8a2a" stroke-width="0.6"/>
<circle cx="372.9" cy="611" r="3.0" fill="#3db53d" stroke="#2a8a2a" stroke-width="0.6"/>
<circle cx="329.6" cy="613.5" r="3.0" fill="#3db53d" stroke="#2a8a2a" stroke-width="0.6"/>
<circle cx="329.6" cy="616.5" r="3.0" fill="#3db53d" stroke="#2a8a2a" stroke-width="0.6"/>
<circle cx="329.6" cy="619.5" r="3.0" fill="#3db53d" stroke="#2a8a2a" stroke-width="0.6"/>
<circle cx="347" cy="620" r="3.0" fill="#3db53d" stroke="#2a8a2a" stroke-width="0.6"/>
<circle cx="363.8" cy="624.8" r="3.0" fill="#3db53d" stroke="#2a8a2a" stroke-width="0.6"/>
<circle cx="338.4" cy="628.9" r="3.0" fill="#3db53d" stroke="#2a8a2a" stroke-width="0.6"/>
<circle cx="475" cy="568.3" r="3.0" fill="#3db53d" stroke="#2a8a2a" stroke-width="0.6"/>
<rect x="336.4" y="624.1" width="4.6" height="4.6" fill="#3a50c4"/>
<rect x="327.9" y="641.6" width="4.6" height="4.6" fill="#3a50c4"/>
<rect x="336.3" y="639.3" width="4.6" height="4.6" fill="#3a50c4"/>
<rect x="336.3" y="643.9" width="4.6" height="4.6" fill="#3a50c4"/>
<rect x="344.8" y="647.9" width="4.6" height="4.6" fill="#3a50c4"/>
<rect x="327.9" y="650.2" width="4.6" height="4.6" fill="#3a50c4"/>
<rect x="370.6" y="652.9" width="4.6" height="4.6" fill="#3a50c4"/>
<rect x="327.9" y="659.1" width="4.6" height="4.6" fill="#3a50c4"/>
<rect x="327.9" y="662" width="4.6" height="4.6" fill="#3a50c4"/>
<rect x="344.8" y="665.9" width="4.6" height="4.6" fill="#3a50c4"/>
<rect x="327.9" y="674.8" width="4.6" height="4.6" fill="#3a50c4"/>
<rect x="327.9" y="680.2" width="4.6" height="4.6" fill="#3a50c4"/>
<rect x="362.2" y="680" width="4.6" height="4.6" fill="#3a50c4"/>
<rect x="353.2" y="688.6" width="4.6" height="4.6" fill="#3a50c4"/>
<rect x="327.9" y="700.6" width="4.6" height="4.6" fill="#3a50c4"/>
<rect x="336.3" y="708.8" width="4.6" height="4.6" fill="#3a50c4"/>
<rect x="353.2" y="710" width="4.6" height="4.6" fill="#3a50c4"/>
<rect x="472.7" y="596.7" width="4.6" height="4.6" fill="#3a50c4"/>
<line x1="558.3" y1="551" x2="558.3" y2="720.3" stroke="#000" stroke-width="1.5"/>
<line x1="557.6" y1="719.6" x2="782.6" y2="719.6" stroke="#000" stroke-width="1.5"/>
<line x1="555" y1="552" x2="558.3" y2="552" stroke="#000" stroke-width="1.3"/>
<g font-family='"Liberation Serif", serif'>
<text x="548.4" y="723.7" font-size="10.5" font-weight="bold" text-anchor="middle" fill="#111" >0</text>
<text x="548.4" y="702.65" font-size="10.5" font-weight="bold" text-anchor="middle" fill="#111" >1</text>
<text x="548.4" y="681.6" font-size="10.5" font-weight="bold" text-anchor="middle" fill="#111" >2</text>
<text x="548.4" y="660.55" font-size="10.5" font-weight="bold" text-anchor="middle" fill="#111" >3</text>
<text x="548.4" y="639.5" font-size="10.5" font-weight="bold" text-anchor="middle" fill="#111" >4</text>
<text x="548.4" y="618.45" font-size="10.5" font-weight="bold" text-anchor="middle" fill="#111" >5</text>
<text x="548.4" y="597.4" font-size="10.5" font-weight="bold" text-anchor="middle" fill="#111" >6</text>
<text x="548.4" y="576.35" font-size="10.5" font-weight="bold" text-anchor="middle" fill="#111" >7</text>
<text x="548.4" y="555.3" font-size="10.5" font-weight="bold" text-anchor="middle" fill="#111" >8</text>
<text x="558.4" y="734.4" font-size="10.5" font-weight="bold" text-anchor="middle" fill="#111" >0</text>
<text x="586.24" y="734.4" font-size="10.5" font-weight="bold" text-anchor="middle" fill="#111" >1</text>
<text x="614.08" y="734.4" font-size="10.5" font-weight="bold" text-anchor="middle" fill="#111" >2</text>
<text x="641.92" y="734.4" font-size="10.5" font-weight="bold" text-anchor="middle" fill="#111" >3</text>
<text x="669.76" y="734.4" font-size="10.5" font-weight="bold" text-anchor="middle" fill="#111" >4</text>
<text x="697.6" y="734.4" font-size="10.5" font-weight="bold" text-anchor="middle" fill="#111" >5</text>
<text x="725.44" y="734.4" font-size="10.5" font-weight="bold" text-anchor="middle" fill="#111" >6</text>
<text x="753.28" y="734.4" font-size="10.5" font-weight="bold" text-anchor="middle" fill="#111" >7</text>
<text x="781.12" y="734.4" font-size="10.5" font-weight="bold" text-anchor="middle" fill="#111" >8</text>
<text x="668.5" y="752.2" font-size="10.8" font-weight="bold" text-anchor="middle" fill="#111" letter-spacing="-0.1" >PPM</text>
<text transform="translate(538.6,636.6) rotate(-90)" font-size="11" font-weight="bold" text-anchor="middle" fill="#111" letter-spacing="0.6">VIP</text>
<text x="576.8" y="620.7" font-size="9.6" font-weight="bold" text-anchor="start" fill="#111" letter-spacing="0.15" >3-HB</text>
<text x="621.1" y="601.1" font-size="9.6" font-weight="bold" text-anchor="start" fill="#111" letter-spacing="0.15" >Cit</text>
<text x="637.6" y="613.2" font-size="9.6" font-weight="bold" text-anchor="start" fill="#111" letter-spacing="0.15" >Cho</text>
<text x="611.7" y="627" font-size="9.6" font-weight="bold" text-anchor="start" fill="#111" letter-spacing="0.15" >Aca</text>
<text x="598.5" y="638.2" font-size="9.6" font-weight="bold" text-anchor="start" fill="#111" letter-spacing="0.15" >Acn</text>
</g>
<line x1="609.3" y1="640.9" x2="620.5" y2="653.4" stroke="#000" stroke-width="0.9"/>
<path d="M575.4,711 L575.4,714.98 L575.9,711.52 L576.4,715.43 L576.9,711.2 L577.4,715.08 L577.9,710.62 L578.4,711.72 L578.9,708.6 L578.9,709.34 L579.4,715.88 L579.9,710.5 L580.4,715.8 L580.5,710.2 L580.9,698.82 L581.4,704.41 L581.8,671.9 L581.9,676.58 L582.4,707.13 L582.9,700.6 L582.9,702.43 L583.4,700.55 L583.7,686.3 L583.9,691.79 L584.4,709.32 L584.5,703.8 L584.9,705.47 L585.4,713.74 L585.9,701.49 L586.1,700.6 L586.4,713.91 L586.9,703.12 L587.4,713.02 L587.9,705.68 L588.4,710.16 L588.5,707 L588.9,709.98 L589.4,713.41 L589.9,712.77 L590.1,713.4 L590.4,716.26 L590.9,711.96 L591.4,713.17 L591.7,708.6 L591.9,664.51 L592,623.9 L592.4,689.97 L592.9,658.48 L593.3,660.7 L593.4,687.82 L593.9,678.02 L594.1,671.9 L594.4,705.85 L594.9,670.3 L594.9,679.23 L595.4,712.04 L595.7,681.5 L595.9,687.72 L596.4,707.99 L596.9,708.11 L597.3,716.6 L597.4,715.43 L597.9,704.76 L598.1,700.6 L598.4,706.66 L598.9,690.6 L599.4,691.93 L599.7,673.5 L599.9,682.6 L600.4,703.2 L600.9,697.48 L601.3,703.8 L601.4,714.45 L601.9,703.86 L602.4,709.57 L602.8,700.6 L602.9,702.58 L603.4,713.57 L603.9,706.22 L604.4,708.6 L604.4,715.99 L604.9,707.14 L605.4,714.32 L605.9,706.2 L606,703.8 L606.4,709.41 L606.9,708.83 L607.4,713.44 L607.6,710.2 L607.9,709.55 L608.4,709.76 L608.9,703.56 L609.4,708.02 L609.9,701.73 L610.4,705.4 L610.9,696.59 L611.4,714.1 L611.6,689.4 L611.9,697.18 L612.4,708.39 L612.9,704.61 L613.2,707 L613.4,713.09 L613.9,706.5 L614.4,708.6 L614.9,703.6 L615.4,713.61 L615.6,699 L615.9,699.37 L616.4,700.17 L616.9,691.11 L617.4,694.7 L617.9,677.42 L618,673.5 L618.4,706.46 L618.9,695.31 L619.4,709.15 L619.6,703.8 L619.9,709.57 L620.4,715 L620.4,716.02 L620.9,638.2 L620.9,643.09 L621.4,704.17 L621.5,700 L621.9,666.92 L622.3,630.2 L622.4,669.48 L622.8,671.9 L622.9,676.46 L623.4,710.69 L623.9,708.6 L623.9,710.17 L624.4,704.32 L624.9,680.72 L625.2,671.9 L625.4,714.18 L625.9,691 L626.4,709.56 L626.8,708.6 L626.9,706.07 L627.4,708.82 L627.9,675.1 L627.9,681.94 L628.4,704.52 L628.9,696.13 L629.2,700 L629.4,696.52 L629.9,657.57 L630.4,604.6 L630.4,645.96 L630.8,700.6 L630.9,701.45 L631.4,713.46 L631.9,692.45 L632.4,687.8 L632.4,710.44 L632.9,680.21 L633.4,699.95 L633.9,651.62 L634.3,626.6 L634.4,675.13 L634.7,703.8 L634.9,705.27 L635.4,710.17 L635.9,707.94 L636.3,707 L636.4,712.05 L636.9,708.41 L637.4,716.08 L637.9,709.95 L638.4,716.02 L638.9,710.23 L639.4,714.21 L639.5,710.2 L639.9,710.21 L640.4,713.35 L640.9,707.05 L641.4,711.87 L641.9,703.8 L641.9,704.17 L642.4,706.88 L642.7,687.8 L642.9,692.52 L643.4,714.07 L643.9,685.17 L644.3,678.3 L644.4,702 L644.9,663.03 L645.4,672.77 L645.5,640 L645.9,629.73 L646.1,617.1 L646.4,701.08 L646.8,650 L646.9,660.36 L647.4,683.98 L647.5,640 L647.9,645.81 L648.2,627.1 L648.4,701.8 L648.9,669.52 L649.1,671.9 L649.4,706.93 L649.9,693.56 L650.4,709.55 L650.7,707 L650.9,706.28 L651.4,707.88 L651.9,694.92 L652.3,687.8 L652.4,710.82 L652.9,684.04 L653.4,695.12 L653.9,663.9 L653.9,673.85 L654.4,702.17 L654.9,665.66 L655.2,657.5 L655.4,680.99 L655.9,675.74 L656.3,678.3 L656.4,698.31 L656.9,692.75 L657.4,709.63 L657.9,707 L657.9,708.55 L658.4,704.98 L658.9,650.43 L659.4,666.57 L659.8,575.7 L659.9,601.35 L660.4,698.04 L660.9,678.16 L661.1,687.8 L661.4,699.44 L661.6,671 L661.9,682.98 L662.4,712.44 L662.7,690 L662.9,695.8 L663.4,715.36 L663.5,700 L663.9,707.93 L664.3,711.8 L664.4,713.82 L664.9,695.13 L665.4,694.54 L665.5,673.4 L665.8,690 L665.9,694.65 L666.4,714.32 L666.9,695.14 L667.4,694.2 L667.4,711.26 L667.9,696.98 L668.4,711.57 L668.9,693.52 L669,692.6 L669.4,712.83 L669.9,702.8 L670.4,713.78 L670.9,710.85 L671.4,715 L671.4,716.09 L671.9,712.27 L672.4,714.22 L672.9,706.23 L673,703.8 L673.4,706.4 L673.9,697.13 L674.4,707.23 L674.7,690 L674.9,696.7 L675.4,709.56 L675.8,710.6 L675.9,711.27 L676.4,714.63 L676.9,708.88 L677.4,713.38 L677.9,707.61 L678.2,706.7 L678.4,710.15 L678.9,705.31 L679.4,710.66 L679.9,703.08 L686.9,685.6 L702.7,714.6 L703.4,711.98 L703.9,703.44 L704.3,699.6 L704.4,709.54 L704.9,690.5 L705.4,679 L705.4,705.89 L705.9,698.77 L706.4,713.8 L706.4,715.13 L706.9,711.05 L707.4,709.61 L707.5,705.1 L707.9,707.66 L708.4,712.92 L708.9,711.74 L709.1,712.2 L709.4,714.28 L709.9,713.98 L710.4,715.56 L710.6,714.6 L710.9,714.61 L711.4,715.96 L711.9,714.64 L717,714.6 L720.1,710.6 L723.3,714.6 L729.6,715.4 L732.8,713.8 L739.1,714.6 L740.4,715.83 L740.9,714.52 L741.4,715.84 L741.9,714.68 L742.4,716.13 L742.9,714.32 L743.4,716.1 L743.9,714.31 L744.4,715.4 L744.9,713.94 L745.4,713.8 L745.4,715.71 L745.9,713.77 L746.4,716.24 L746.9,713.42 L747.4,715.3 L747.9,712.25 L748.4,715.94 L748.6,711.4 L748.9,710.91 L749.4,712.75 L749.9,710.1 L750.4,714.25 L750.9,707.91 L751,707.5 L751.4,714.37 L751.9,711.28 L752.4,714.43 L752.6,712.2 L752.9,712.38 L753.4,714 L753.9,711.6 L754.4,716.13 L754.9,710.6 L754.9,711.05 L755.4,716.09 L755.9,712.09 L756.4,714.99 L756.9,711.85 L757.4,716.21 L757.9,712.54 L758.1,712.2 L758.4,714.54 L758.9,710.98 L759.4,716.09 L759.7,709 L759.9,709.8 L760.4,713.03 L760.9,710.08 L761.4,712.5 L761.9,710.57 L762.1,709.8 L762.4,713.26 L762.9,705.82 L763.4,713.92 L763.6,701.1 L763.9,707.12 L764.4,712.2 L764.4,713.74 L764.9,707.35 L765.2,702.7 L765.4,711.14 L765.9,713.18 L766,713.8 L766.4,715.99 L766.9,713.72 L767.4,715.01 L767.9,713.42 L768.4,716.31 L768.9,713.28 L769.2,713 L769.4,715.49 L769.9,713.22 L770.4,715.53 L770.9,713.17 L771.4,715.71 L771.9,712.63 L772.4,715.72 L772.9,712.62 L773.4,715.11 L773.9,712.2 L773.9,712.49 L774.4,714.23 L774.9,711.76 L775.4,714.35 L775.5,710.6 L775.9,711.48 L776.4,715.53 L776.8,712.2" fill="none" stroke="#000" stroke-width="1.0" stroke-linejoin="round" />
<line x1="559" y1="657.1" x2="700" y2="657.1" stroke="#e0202a" stroke-width="1.5"/>
</svg>
</body></html>
